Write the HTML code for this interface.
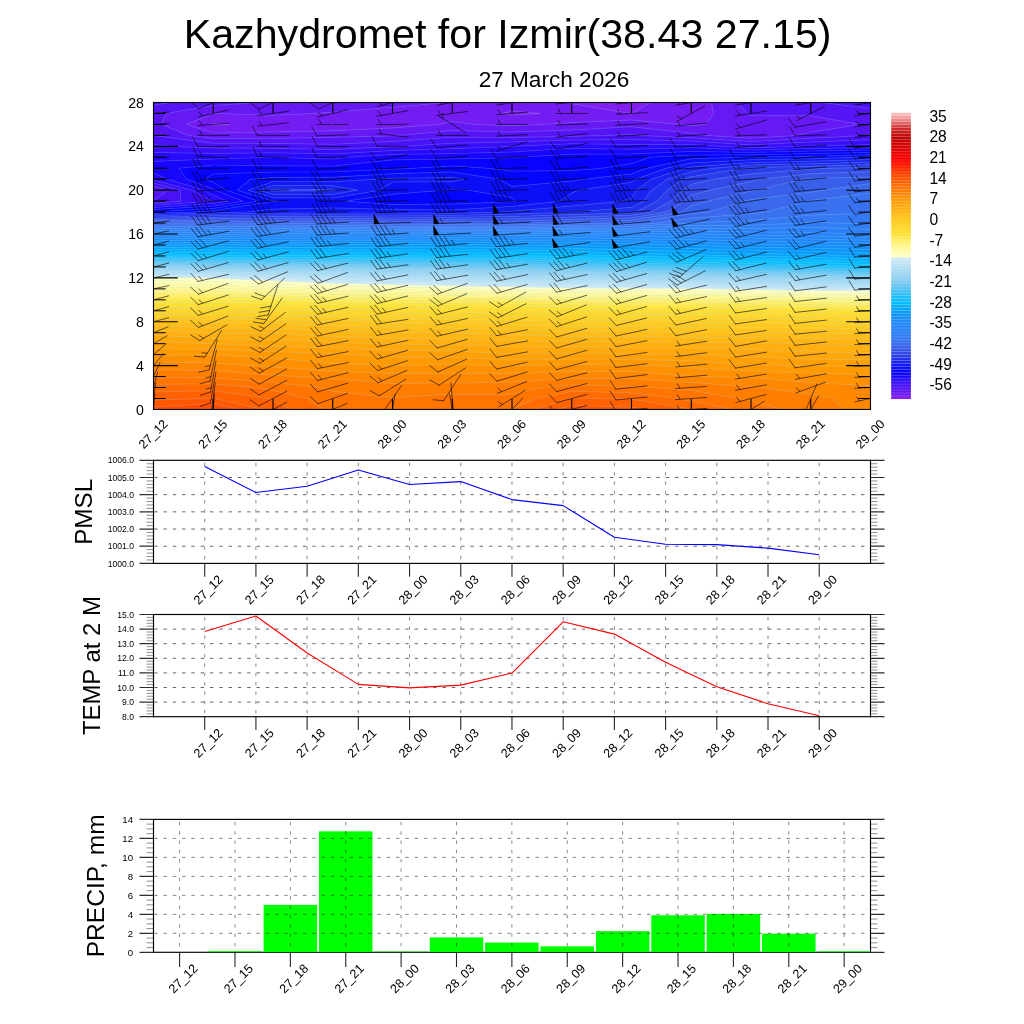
<!DOCTYPE html>
<html><head><meta charset="utf-8"><title>Kazhydromet for Izmir</title>
<style>html,body{margin:0;padding:0;background:#fff}svg{display:block}text{font-family:"Liberation Sans", Arial, Helvetica, sans-serif;fill:#000}</style>
</head><body>
<svg width="1024" height="1024" viewBox="0 0 1024 1024">
<rect width="1024" height="1024" fill="#fff"/>
<text x="507.6" y="47.7" font-size="41.2" text-anchor="middle">Kazhydromet for Izmir(38.43 27.15)</text>
<text x="554" y="86.7" font-size="22.6" text-anchor="middle">27 March 2026</text>
<g><rect x="153.5" y="102.5" width="717.0" height="306.95" fill="#37bef6"/><path d="M211.3 124.4L213.2 125.0L228.6 124.4L213.2 123.6ZM331.0 124.4L332.8 124.5L333.5 124.4L332.8 124.3ZM502.2 113.5L512.0 115.0L539.5 113.5L512.0 110.9ZM630.9 113.5L631.5 113.5L631.8 113.5L650.0 102.5L631.5 102.5L571.8 102.5L569.1 102.5L571.8 103.8Z" fill="#8220f0" stroke="#8220f0" stroke-width="0.35"/><path d="M186.5 124.4L213.2 133.0L273.0 131.9L332.8 130.8L392.5 127.9L439.0 124.4L452.2 121.5L475.1 124.4L512.0 125.7L544.0 124.4L571.8 122.6L631.5 119.9L679.5 124.4L691.2 125.7L706.1 124.4L713.6 113.5L711.3 102.5L691.2 102.5L650.0 102.5L631.8 113.5L631.5 113.5L630.9 113.5L571.8 103.8L569.1 102.5L512.0 102.5L452.2 102.5L447.0 102.5L392.5 107.2L332.8 112.2L311.2 113.5L273.0 115.2L213.2 113.5ZM213.3 125.0L211.3 124.4L213.2 123.6L228.6 124.4ZM332.8 124.5L331.0 124.4L332.8 124.3L333.5 124.4ZM512.0 115.0L502.2 113.5L512.0 110.9L539.5 113.5Z" fill="#741cf2" stroke="#741cf2" stroke-width="0.35"/><path d="M153.5 190.2L153.5 192.2L156.5 190.2L153.5 189.4ZM188.5 135.4L213.2 138.6L273.0 138.5L332.8 137.3L392.5 135.9L399.5 135.4L452.2 130.5L512.0 132.1L571.8 130.1L631.5 126.7L691.2 133.3L706.1 135.4L751.0 138.2L796.8 135.4L810.8 132.2L860.6 124.4L810.8 115.7L751.0 115.6L747.1 113.5L738.0 102.5L711.3 102.5L713.6 113.5L706.1 124.4L691.2 125.7L679.5 124.4L631.5 119.9L571.8 122.6L544.0 124.4L512.0 125.7L475.1 124.4L452.2 121.5L439.0 124.4L392.5 127.9L332.8 130.8L273.0 131.9L213.2 133.0L186.5 124.4L213.2 113.5L273.0 115.2L311.2 113.5L332.8 112.2L392.5 107.2L447.0 102.5L392.5 102.5L332.8 102.5L273.0 102.5L257.5 102.5L213.2 105.5L166.0 113.5L161.7 124.4Z" fill="#6619f3" stroke="#6619f3" stroke-width="0.35"/><path d="M153.5 192.2L153.5 200.2L168.3 190.2L153.5 186.3L153.5 189.4L156.5 190.2ZM153.5 135.4L153.5 135.5L213.2 143.2L273.0 143.4L332.8 144.3L392.5 141.4L452.2 137.2L512.0 137.5L571.8 136.3L608.3 135.4L631.5 134.3L641.6 135.4L691.2 137.8L751.0 141.5L810.8 138.2L864.3 135.4L870.5 134.4L870.5 124.4L870.5 113.5L870.5 108.4L822.2 102.5L810.8 102.5L751.0 102.5L738.0 102.5L747.1 113.5L751.0 115.6L810.8 115.7L860.6 124.4L810.8 132.2L796.8 135.4L751.0 138.2L706.1 135.4L691.2 133.3L631.5 126.7L571.8 130.1L512.0 132.1L452.2 130.5L399.5 135.4L392.5 135.9L332.8 137.3L273.0 138.5L213.2 138.6L188.5 135.4L161.7 124.4L166.0 113.5L213.2 105.5L257.5 102.5L213.2 102.5L169.8 102.5L153.5 105.1L153.5 113.5L153.5 124.4Z" fill="#5715f5" stroke="#5715f5" stroke-width="0.35"/><path d="M153.5 201.2L153.5 203.1L181.0 201.2L180.1 190.2L153.5 183.1L153.5 186.3L168.3 190.2L153.5 200.2ZM175.6 146.4L213.2 148.0L273.0 148.2L332.8 149.5L392.5 146.7L402.6 146.4L452.2 143.3L512.0 141.9L571.8 140.0L631.5 139.6L691.2 141.1L751.0 144.9L810.8 142.0L870.5 139.8L870.5 135.4L870.5 134.4L864.3 135.4L810.8 138.2L751.0 141.5L691.2 137.8L641.6 135.4L631.5 134.3L608.3 135.4L571.8 136.3L512.0 137.5L452.2 137.2L392.5 141.4L332.8 144.3L273.0 143.4L213.2 143.2L153.5 135.5L153.5 144.7ZM153.5 102.5L153.5 105.1L169.8 102.5ZM822.2 102.5L870.5 108.4L870.5 102.5Z" fill="#4912f6" stroke="#4912f6" stroke-width="0.35"/><path d="M153.5 203.1L153.5 205.2L212.6 201.2L191.9 190.2L153.5 180.0L153.5 183.1L180.1 190.2L181.0 201.2ZM153.5 146.4L153.5 152.5L213.2 153.4L273.0 152.8L332.8 153.9L392.5 150.6L452.2 148.8L511.7 146.4L512.0 146.3L571.8 143.8L631.5 144.5L691.2 144.4L721.6 146.4L751.0 147.7L799.0 146.4L810.8 145.8L870.5 144.7L870.5 139.8L810.8 142.0L751.0 144.9L691.2 141.1L631.5 139.6L571.8 140.0L512.0 141.9L452.2 143.3L402.6 146.4L392.5 146.7L332.8 149.5L273.0 148.2L213.2 148.0L175.6 146.4L153.5 144.7Z" fill="#3a0ef8" stroke="#3a0ef8" stroke-width="0.35"/><path d="M153.5 205.2L153.5 207.4L213.2 203.5L228.0 201.2L213.2 195.2L203.7 190.2L167.7 179.2L153.5 173.2L153.5 179.2L153.5 180.0L191.9 190.2L212.6 201.2ZM153.5 157.3L153.5 161.4L213.2 159.0L273.0 157.4L332.8 159.1L347.6 157.3L392.5 154.4L452.2 153.6L512.0 152.0L571.8 148.3L631.5 149.3L691.2 147.8L751.0 150.1L810.8 148.5L870.5 147.8L870.5 146.4L870.5 144.7L810.8 145.8L799.0 146.4L751.0 147.7L721.6 146.4L691.2 144.4L631.5 144.5L571.8 143.8L512.0 146.3L511.7 146.4L452.2 148.8L392.5 150.6L332.8 153.9L273.0 152.8L213.2 153.4L153.5 152.5Z" fill="#290afa" stroke="#290afa" stroke-width="0.35"/><path d="M153.5 207.4L153.5 209.6L213.2 206.0L243.1 201.2L215.3 190.2L213.2 188.9L186.3 179.2L179.1 168.3L213.2 165.1L273.0 165.8L332.8 166.1L392.5 159.9L452.2 158.9L512.0 158.0L517.7 157.3L571.8 154.2L631.5 154.0L691.2 151.4L751.0 152.4L810.8 151.1L870.5 150.1L870.5 147.8L810.8 148.5L751.0 150.1L691.2 147.8L631.5 149.3L571.8 148.3L512.0 152.0L452.2 153.6L392.5 154.4L347.6 157.3L332.8 159.1L273.0 157.4L213.2 159.0L153.5 161.4L153.5 168.3L153.5 173.2L167.7 179.2L203.7 190.2L213.2 195.2L228.0 201.2L213.3 203.5Z" fill="#1906fc" stroke="#1906fc" stroke-width="0.35"/><path d="M153.5 209.6L153.5 211.8L213.2 208.4L258.2 201.2L226.3 190.2L213.2 182.3L204.8 179.2L213.2 174.0L273.0 172.1L332.8 171.9L392.5 169.1L413.2 168.3L452.2 165.9L487.9 168.3L512.0 171.1L571.8 170.7L601.8 168.3L631.5 163.6L650.3 157.3L691.2 155.0L751.0 154.8L810.8 153.6L870.5 152.4L870.5 150.1L810.8 151.1L751.0 152.4L691.2 151.4L631.5 154.0L571.8 154.2L517.7 157.3L512.0 158.0L452.2 158.9L392.5 159.9L332.8 166.1L273.0 165.8L213.2 165.1L179.1 168.3L186.3 179.2L213.2 188.9L215.3 190.2L243.1 201.2L213.2 206.0Z" fill="#0802fe" stroke="#0802fe" stroke-width="0.35"/><path d="M153.5 212.1L153.5 213.2L189.8 212.1L213.2 210.8L273.0 201.3L278.8 201.2L273.0 201.1L237.2 190.2L250.5 179.2L273.0 177.5L332.8 177.2L392.5 173.7L452.2 171.9L499.3 179.2L512.0 186.4L571.8 181.1L583.7 179.2L631.5 173.9L646.6 168.3L691.2 158.7L742.7 157.3L751.0 157.2L810.8 156.2L870.5 154.7L870.5 152.4L810.8 153.6L751.0 154.8L691.2 155.0L650.3 157.3L631.5 163.6L601.8 168.3L571.8 170.7L512.0 171.1L487.9 168.3L452.2 165.9L413.2 168.3L392.5 169.1L332.8 171.9L273.0 172.1L213.2 174.0L204.8 179.2L213.2 182.3L226.3 190.2L258.2 201.2L213.2 208.4L153.5 211.8ZM345.6 201.2L392.5 204.6L452.2 204.0L512.0 201.6L515.8 201.2L512.0 197.7L468.3 190.2L452.2 189.7L444.0 190.2L392.5 194.3Z" fill="#0405fd" stroke="#0405fd" stroke-width="0.35"/><path d="M153.5 213.2L153.5 214.4L213.2 212.8L245.4 212.1L273.0 209.1L332.8 207.9L392.5 209.4L452.2 209.9L512.0 206.4L559.9 201.2L571.8 192.9L578.4 190.2L631.5 182.3L635.8 179.2L666.0 168.3L691.2 162.9L751.0 159.8L810.8 158.7L856.6 157.3L870.5 156.9L870.5 154.7L810.8 156.2L751.0 157.2L742.7 157.3L691.3 158.7L646.6 168.3L631.5 173.9L583.7 179.2L571.8 181.1L512.0 186.4L499.3 179.2L452.2 171.9L392.5 173.7L332.8 177.2L273.0 177.5L250.5 179.2L237.2 190.2L273.0 201.1L278.8 201.2L273.0 201.3L213.2 210.8L189.8 212.1ZM392.5 204.6L345.6 201.2L392.5 194.3L444.0 190.2L452.2 189.7L468.3 190.2L512.0 197.7L515.8 201.2L512.0 201.6L452.2 204.0ZM273.0 197.8L248.1 190.2L273.0 181.7L332.8 181.7L377.6 179.2L392.5 178.3L452.2 177.4L464.0 179.2L452.2 181.8L392.5 182.1L379.9 190.2L332.8 198.1Z" fill="#0b0ff8" stroke="#0b0ff8" stroke-width="0.35"/><path d="M153.5 214.4L153.5 215.7L213.2 214.3L273.0 213.2L332.8 213.0L392.5 213.0L452.2 213.3L498.9 212.1L512.0 211.3L571.8 205.9L622.7 201.2L631.5 197.9L636.2 190.2L651.5 179.2L685.5 168.3L691.2 167.0L751.0 162.5L810.8 161.2L870.5 159.5L870.5 157.3L870.5 156.9L856.6 157.3L810.7 158.7L751.0 159.8L691.2 162.9L666.0 168.3L635.8 179.2L631.5 182.3L578.4 190.2L571.8 192.9L559.9 201.2L512.0 206.4L452.2 209.9L392.5 209.4L332.8 207.9L273.0 209.1L245.4 212.1L213.2 212.8ZM248.1 190.2L273.0 197.8L332.8 198.1L379.9 190.2L392.5 182.1L452.2 181.8L464.0 179.2L452.2 177.4L392.5 178.3L377.6 179.2L332.8 181.7L273.0 181.7ZM273.0 194.4L259.1 190.2L273.0 185.5L332.8 185.7L357.6 190.2L332.8 194.4Z" fill="#1219f4" stroke="#1219f4" stroke-width="0.35"/><path d="M153.5 215.7L153.5 217.0L213.2 215.7L273.0 214.9L332.8 214.8L392.5 215.0L452.2 215.3L512.0 214.1L571.8 212.2L574.9 212.1L631.5 207.3L643.3 201.2L651.6 190.2L667.3 179.2L691.2 171.8L713.3 168.3L751.0 165.1L810.8 163.7L870.5 162.1L870.5 159.5L810.8 161.2L751.0 162.5L691.2 167.0L685.5 168.3L651.5 179.2L636.2 190.2L631.5 197.9L622.7 201.2L571.8 205.9L512.0 211.3L498.9 212.1L452.2 213.3L392.5 213.0L332.8 213.0L273.0 213.2L213.2 214.3ZM259.1 190.2L273.0 194.4L332.8 194.4L357.6 190.2L332.8 185.7L273.0 185.5ZM273.0 191.1L270.0 190.2L273.0 189.2L332.8 189.7L335.3 190.2L332.8 190.6Z" fill="#1a24f0" stroke="#1a24f0" stroke-width="0.35"/><path d="M153.5 217.0L153.5 218.2L213.2 217.2L273.0 216.6L332.8 216.5L392.5 217.1L452.2 217.3L512.0 216.5L571.8 214.6L631.5 212.9L636.1 212.1L656.9 201.2L667.0 190.2L683.1 179.2L691.2 176.7L744.6 168.3L751.0 167.7L810.8 166.2L870.5 164.7L870.5 162.1L810.8 163.7L751.0 165.1L713.3 168.3L691.2 171.8L667.3 179.2L651.6 190.2L643.3 201.2L631.5 207.3L574.9 212.1L571.8 212.2L512.0 214.1L452.2 215.3L392.5 215.0L332.8 214.8L273.0 214.9L213.2 215.7ZM270.0 190.2L273.0 191.1L332.8 190.6L335.3 190.2L332.8 189.7L273.0 189.2Z" fill="#2231ee" stroke="#2231ee" stroke-width="0.35"/><path d="M153.5 218.2L153.5 219.5L213.2 218.6L273.0 218.3L332.8 218.3L392.5 219.1L452.2 219.2L512.0 218.8L571.8 217.0L631.5 215.3L651.1 212.1L670.5 201.2L682.4 190.2L691.2 184.3L714.3 179.2L751.0 173.8L810.8 169.1L831.5 168.3L870.5 167.3L870.5 164.7L810.8 166.2L751.0 167.7L744.6 168.3L691.2 176.7L683.1 179.2L667.0 190.2L656.9 201.2L636.1 212.1L631.5 212.9L571.8 214.6L512.0 216.5L452.2 217.3L392.5 217.1L332.8 216.5L273.0 216.6L213.2 217.2Z" fill="#2b3dea" stroke="#2b3dea" stroke-width="0.35"/><path d="M153.5 219.5L153.5 220.7L213.3 220.1L273.0 220.0L332.8 220.1L392.5 221.1L452.2 221.2L512.0 221.2L571.8 219.3L631.5 217.8L666.2 212.1L684.0 201.2L691.2 195.1L710.3 190.2L751.0 181.4L760.5 179.2L810.8 173.7L870.5 171.7L870.5 168.3L870.5 167.3L831.5 168.3L810.8 169.1L751.0 173.8L714.3 179.2L691.2 184.3L682.4 190.2L670.5 201.2L651.1 212.1L631.5 215.3L571.8 217.0L512.0 218.8L452.2 219.2L392.5 219.1L332.8 218.3L273.0 218.3L213.2 218.6Z" fill="#334ae8" stroke="#334ae8" stroke-width="0.35"/><path d="M390.9 223.1L392.5 223.1L452.2 223.1L512.0 223.4L526.9 223.1L571.8 221.7L631.5 220.2L681.2 212.1L691.2 205.7L708.1 201.2L751.0 190.9L756.9 190.2L801.8 179.2L810.8 178.3L870.5 177.0L870.5 171.7L810.8 173.7L760.5 179.2L751.0 181.4L710.3 190.2L691.2 195.1L684.0 201.2L666.2 212.1L631.5 217.8L571.8 219.3L512.0 221.2L452.2 221.2L392.5 221.1L332.8 220.1L273.0 220.0L213.2 220.1L153.5 220.7L153.5 222.0L213.2 221.6L273.0 221.7L332.8 221.9Z" fill="#3855e7" stroke="#3855e7" stroke-width="0.35"/><path d="M153.5 223.1L153.5 223.3L196.8 223.1L213.2 223.0L224.6 223.1L273.0 223.4L332.8 223.6L392.5 224.7L452.2 224.6L512.0 224.8L571.8 223.7L614.8 223.1L631.5 222.7L691.2 213.6L708.8 212.1L743.9 201.2L751.0 199.5L810.8 192.1L822.8 190.2L870.5 183.6L870.5 179.2L870.5 177.0L810.8 178.3L801.8 179.2L756.9 190.2L751.0 190.9L708.1 201.2L691.2 205.7L681.2 212.1L631.5 220.2L571.8 221.7L526.9 223.1L512.0 223.4L452.2 223.1L392.5 223.1L390.9 223.1L332.8 221.9L273.0 221.7L213.2 221.6L153.5 222.0Z" fill="#385fea" stroke="#385fea" stroke-width="0.35"/><path d="M153.5 223.3L153.5 225.1L213.2 224.9L273.0 225.1L332.8 225.3L392.5 226.3L452.2 226.0L512.0 226.3L571.8 225.2L631.5 224.6L657.9 223.1L691.2 218.2L751.0 213.5L766.5 212.1L807.3 201.2L810.7 200.7L870.5 192.8L870.5 190.2L870.5 183.6L822.8 190.2L810.7 192.1L751.0 199.5L743.9 201.2L708.8 212.1L691.2 213.6L631.5 222.7L614.8 223.1L571.8 223.7L512.0 224.8L452.2 224.6L392.5 224.7L332.8 223.6L273.0 223.4L224.6 223.1L213.2 223.0L196.8 223.1Z" fill="#3a69ed" stroke="#3a69ed" stroke-width="0.35"/><path d="M153.5 225.1L153.5 226.8L213.2 226.8L273.0 226.8L332.8 227.0L392.5 227.8L452.2 227.5L512.0 227.8L571.8 226.8L631.5 226.5L689.2 223.1L691.2 222.8L751.0 220.5L810.8 215.1L870.5 213.3L870.5 212.1L870.5 201.2L870.5 192.8L810.8 200.7L807.3 201.2L766.5 212.1L751.0 213.5L691.2 218.2L657.9 223.1L631.5 224.6L571.8 225.2L512.0 226.3L452.2 226.0L392.5 226.3L332.8 225.3L273.0 225.1L213.3 224.9Z" fill="#3872f0" stroke="#3872f0" stroke-width="0.35"/><path d="M153.5 226.8L153.5 228.6L213.2 228.7L273.0 228.5L332.8 228.6L392.5 229.4L452.2 228.9L512.0 229.2L571.8 228.3L631.5 228.3L691.2 225.6L751.0 225.2L799.7 223.1L810.8 222.1L837.4 223.1L870.5 224.0L870.5 223.1L870.5 213.3L810.8 215.1L751.0 220.5L691.2 222.8L689.2 223.1L631.5 226.5L571.8 226.8L512.0 227.8L452.2 227.5L392.5 227.8L332.8 227.0L273.0 226.8L213.3 226.8Z" fill="#3479f3" stroke="#3479f3" stroke-width="0.35"/><path d="M153.5 228.6L153.5 230.4L213.2 230.6L273.0 230.2L332.8 230.3L392.5 231.0L452.2 230.4L512.0 230.7L571.8 229.8L631.5 230.1L691.2 228.4L751.0 228.6L810.8 227.4L870.5 229.3L870.5 224.0L837.4 223.1L810.8 222.1L799.7 223.1L751.0 225.2L691.2 225.6L631.5 228.3L571.8 228.3L512.0 229.2L452.2 228.9L392.5 229.4L332.8 228.6L273.0 228.5L213.2 228.7Z" fill="#307ef6" stroke="#307ef6" stroke-width="0.35"/><path d="M857.4 234.0L870.5 234.3L870.5 234.0L870.5 229.3L810.8 227.4L751.0 228.6L691.2 228.4L631.5 230.1L571.8 229.8L512.0 230.7L452.2 230.4L392.5 231.0L332.8 230.3L273.0 230.2L213.2 230.6L153.5 230.4L153.5 232.1L213.2 232.5L273.0 231.9L332.8 232.0L392.5 232.5L452.2 231.8L512.0 232.2L571.8 231.4L631.5 231.9L691.2 231.1L751.0 231.9L810.8 232.3Z" fill="#2c80f6" stroke="#2c80f6" stroke-width="0.35"/><path d="M171.8 234.1L213.2 234.4L238.8 234.1L273.0 233.6L332.8 233.7L384.0 234.0L392.5 234.1L396.4 234.0L452.2 233.3L512.0 233.7L571.8 232.9L631.5 233.8L691.2 233.9L700.6 234.1L751.0 235.2L810.8 236.0L870.5 237.3L870.5 234.3L857.4 234.1L810.8 232.3L751.0 231.9L691.2 231.1L631.5 231.9L571.8 231.4L512.0 232.2L452.2 231.8L392.5 232.5L332.8 232.0L273.0 231.9L213.2 232.5L153.5 232.1L153.5 233.9Z" fill="#2882f8" stroke="#2882f8" stroke-width="0.35"/><path d="M153.5 234.0L153.5 236.1L213.2 236.4L273.0 235.8L332.8 235.8L392.5 236.2L452.2 235.1L512.0 235.7L571.8 234.7L631.5 236.2L691.2 236.7L751.0 238.1L810.8 239.0L870.5 240.3L870.5 237.3L810.8 236.0L751.0 235.2L700.6 234.0L691.2 233.9L631.5 233.8L571.8 232.9L512.0 233.7L452.2 233.3L396.4 234.0L392.5 234.1L384.0 234.0L332.8 233.7L273.0 233.6L238.8 234.1L213.2 234.4L171.8 234.1L153.5 233.9Z" fill="#2484f8" stroke="#2484f8" stroke-width="0.35"/><path d="M153.5 236.1L153.5 238.3L213.2 238.5L273.0 238.1L332.8 238.0L392.5 238.3L452.2 237.4L512.0 238.1L571.8 237.4L631.5 238.7L691.2 239.6L751.0 241.1L810.8 241.9L870.5 243.2L870.5 240.3L810.8 239.0L751.0 238.1L691.2 236.7L631.5 236.2L571.8 234.7L512.0 235.7L452.2 235.1L392.5 236.2L332.8 235.8L273.0 235.8L213.2 236.4Z" fill="#2086fa" stroke="#2086fa" stroke-width="0.35"/><path d="M815.8 245.0L870.5 246.3L870.5 245.0L870.5 243.2L810.8 241.9L751.0 241.1L691.2 239.6L631.5 238.7L571.8 237.4L512.0 238.1L452.2 237.4L392.5 238.3L332.8 238.0L273.0 238.1L213.2 238.5L153.5 238.3L153.5 240.6L213.2 240.5L273.0 240.4L332.8 240.2L392.5 240.4L452.2 239.7L512.0 240.4L571.8 240.0L631.5 241.2L691.2 242.4L751.0 244.1L810.8 244.9Z" fill="#1b8afa" stroke="#1b8afa" stroke-width="0.35"/><path d="M681.8 245.0L691.2 245.3L751.0 247.2L810.8 248.1L870.5 249.7L870.5 246.3L815.8 245.0L810.8 244.9L751.0 244.1L691.2 242.4L631.5 241.2L571.8 240.0L512.0 240.4L452.2 239.7L392.5 240.4L332.8 240.2L273.0 240.4L213.2 240.5L153.5 240.6L153.5 242.8L213.2 242.5L273.0 242.7L332.8 242.4L392.5 242.5L452.2 242.0L512.0 242.7L571.8 242.7L631.5 243.7Z" fill="#148efa" stroke="#148efa" stroke-width="0.35"/><path d="M508.3 245.0L512.0 245.1L571.8 245.4L631.5 246.6L691.2 248.4L751.0 250.2L810.8 251.3L870.5 253.0L870.5 249.7L810.8 248.1L751.0 247.2L691.2 245.3L681.8 245.0L631.5 243.7L571.8 242.7L512.0 242.7L452.2 242.0L392.5 242.5L332.8 242.4L273.0 242.7L213.2 242.5L153.5 242.8L153.5 245.0L213.2 244.5L273.0 245.0L332.8 244.6L392.5 244.6L452.2 244.3Z" fill="#0d94fa" stroke="#0d94fa" stroke-width="0.35"/><path d="M859.1 256.0L870.5 256.3L870.5 256.0L870.5 253.0L810.8 251.3L751.0 250.2L691.2 248.4L631.5 246.6L571.8 245.4L512.0 245.1L508.3 245.0L452.2 244.3L392.5 244.6L332.8 244.6L273.0 245.0L213.2 244.5L153.5 245.0L153.5 245.0L153.5 247.4L213.2 247.1L273.0 247.6L332.8 247.3L392.5 247.3L452.2 247.1L512.0 247.7L571.8 248.3L631.5 249.9L691.2 251.5L751.0 253.3L810.8 254.5Z" fill="#099bfb" stroke="#099bfb" stroke-width="0.35"/><path d="M736.9 256.0L751.0 256.3L810.8 257.3L870.5 259.0L870.5 256.3L859.1 256.0L810.8 254.5L751.0 253.3L691.2 251.5L631.5 249.9L571.8 248.3L512.0 247.7L452.2 247.1L392.5 247.3L332.8 247.3L273.0 247.6L213.2 247.1L153.5 247.4L153.5 249.8L213.2 249.8L273.0 250.2L332.8 250.0L392.5 250.1L452.2 250.1L512.0 250.2L571.8 251.2L631.5 253.3L691.2 254.6Z" fill="#06a5fc" stroke="#06a5fc" stroke-width="0.35"/><path d="M617.9 256.0L631.5 256.4L691.2 257.3L751.0 258.7L810.8 259.9L870.5 261.7L870.5 259.0L810.8 257.3L751.0 256.3L736.9 256.0L691.2 254.6L631.5 253.3L571.8 251.2L512.0 250.2L452.2 250.1L392.5 250.1L332.8 250.0L273.0 250.2L213.2 249.8L153.5 249.8L153.5 252.1L213.2 252.6L273.0 252.9L332.8 252.8L392.5 252.9L452.2 253.2L512.0 252.8L571.8 254.1Z" fill="#04affd" stroke="#04affd" stroke-width="0.35"/><path d="M429.8 256.0L452.2 256.1L466.2 256.0L512.0 255.4L534.9 256.0L571.8 256.7L631.5 258.6L691.2 259.7L751.0 261.0L810.8 262.4L870.5 264.5L870.5 261.7L810.8 259.9L751.0 258.7L691.2 257.3L631.5 256.4L617.9 256.0L571.8 254.1L512.0 252.8L452.2 253.2L392.5 252.9L332.8 252.8L273.0 252.9L213.2 252.6L153.5 252.1L153.5 254.5L213.2 255.3L273.0 255.5L332.8 255.5L392.5 255.7Z" fill="#01b9fe" stroke="#01b9fe" stroke-width="0.35"/><path d="M864.0 266.9L870.5 267.1L870.5 266.9L870.5 264.5L810.8 262.4L751.0 261.0L691.2 259.7L631.5 258.6L571.8 256.7L534.9 256.0L512.0 255.4L466.2 256.0L452.3 256.1L429.8 256.0L392.5 255.7L332.8 255.5L273.0 255.5L213.2 255.3L153.5 254.5L153.5 256.0L153.5 256.6L213.2 257.2L273.0 257.4L332.8 257.4L392.5 257.7L452.2 258.0L512.0 257.7L571.8 258.9L631.5 260.7L691.2 262.1L751.0 263.4L810.7 265.0Z" fill="#0abefd" stroke="#0abefd" stroke-width="0.35"/><path d="M790.3 266.9L810.8 267.4L870.5 268.8L870.5 267.1L864.0 266.9L810.8 265.0L751.0 263.4L691.2 262.1L631.5 260.7L571.8 258.9L512.0 257.7L452.2 258.0L392.5 257.7L332.8 257.4L273.0 257.4L213.3 257.2L153.5 256.6L153.5 258.2L213.2 258.8L273.0 259.1L332.8 259.1L392.5 259.6L452.2 259.8L512.0 259.9L571.8 261.2L631.5 262.9L691.2 264.5L751.0 265.8Z" fill="#1ebefa" stroke="#1ebefa" stroke-width="0.35"/><path d="M695.6 266.9L751.0 267.9L810.8 269.1L870.5 270.5L870.5 268.8L810.8 267.4L790.3 266.9L751.0 265.8L691.2 264.5L631.5 262.9L571.8 261.2L512.0 259.9L452.2 259.8L392.5 259.6L332.8 259.1L273.0 259.1L213.2 258.8L153.5 258.2L153.5 259.8L213.2 260.4L273.0 260.8L332.8 260.8L392.5 261.5L452.2 261.7L512.0 262.1L571.8 263.4L631.5 265.0L691.2 266.8Z" fill="#32bef7" stroke="#32bef7" stroke-width="0.35"/><path d="M622.4 266.9L631.5 267.1L691.2 268.6L751.0 269.7L810.8 270.7L870.5 272.3L870.5 270.5L810.8 269.1L751.0 267.9L695.6 266.9L691.2 266.8L631.5 265.0L571.8 263.4L512.0 262.1L452.2 261.7L392.5 261.5L332.8 260.8L273.0 260.8L213.2 260.4L153.5 259.8L153.5 261.5L213.2 262.0L273.0 262.5L332.8 262.4L392.5 263.4L452.2 263.5L512.0 264.3L571.8 265.6Z" fill="#45c0f4" stroke="#45c0f4" stroke-width="0.35"/><path d="M530.8 266.9L571.8 267.7L631.5 269.0L691.2 270.4L751.0 271.4L810.8 272.4L870.5 274.0L870.5 272.3L810.8 270.7L751.0 269.7L691.2 268.6L631.5 267.1L622.4 266.9L571.8 265.6L512.0 264.3L452.2 263.5L392.5 263.4L332.8 262.4L273.0 262.5L213.2 262.0L153.5 261.5L153.5 263.1L213.2 263.6L273.0 264.2L332.8 264.1L392.5 265.3L452.2 265.4L512.0 266.5Z" fill="#58c4f3" stroke="#58c4f3" stroke-width="0.35"/><path d="M382.3 266.9L392.5 267.2L452.2 267.2L512.0 268.5L571.8 269.7L631.5 270.9L691.2 272.1L751.0 273.2L810.8 274.1L870.5 275.7L870.5 274.0L810.8 272.4L751.0 271.4L691.2 270.4L631.5 269.0L571.8 267.7L530.8 266.9L512.0 266.5L452.2 265.4L392.5 265.3L332.8 264.1L273.0 264.2L213.2 263.6L153.5 263.1L153.5 264.7L213.2 265.3L273.0 265.9L332.8 265.8Z" fill="#6bc7f2" stroke="#6bc7f2" stroke-width="0.35"/><path d="M218.6 266.9L273.0 267.5L332.8 267.5L392.5 269.0L452.2 269.1L512.0 270.4L571.8 271.7L631.5 272.7L691.2 273.9L751.0 275.0L810.8 275.8L870.5 277.4L870.5 275.7L810.8 274.1L751.0 273.2L691.2 272.1L631.5 270.9L571.8 269.7L512.0 268.5L452.2 267.2L392.5 267.2L382.3 266.9L332.8 265.8L273.0 265.9L213.2 265.3L153.5 264.7L153.5 266.3L213.2 266.9Z" fill="#7ecbf1" stroke="#7ecbf1" stroke-width="0.35"/><path d="M824.5 277.9L870.5 279.1L870.5 277.9L870.5 277.4L810.8 275.8L751.0 275.0L691.2 273.9L631.5 272.7L571.8 271.7L512.0 270.4L452.2 269.1L392.5 269.0L332.8 267.5L273.0 267.5L218.6 266.9L213.2 266.9L153.5 266.3L153.5 266.9L153.5 267.8L213.2 268.3L273.0 269.0L332.8 269.3L392.5 270.7L452.2 271.0L512.0 272.3L571.8 273.7L631.5 274.6L691.2 275.6L751.0 276.8L810.8 277.5Z" fill="#8ccff0" stroke="#8ccff0" stroke-width="0.35"/><path d="M716.8 277.9L751.0 278.6L810.8 279.3L870.5 280.8L870.5 279.1L824.5 277.9L810.8 277.5L751.0 276.8L691.2 275.6L631.5 274.6L571.8 273.7L512.0 272.3L452.2 271.0L392.5 270.7L332.8 269.3L273.0 269.0L213.2 268.3L153.5 267.8L153.5 269.1L213.2 269.7L273.0 270.4L332.8 271.0L392.5 272.5L452.2 272.9L512.0 274.2L571.8 275.6L631.5 276.5L691.2 277.4Z" fill="#95d2f1" stroke="#95d2f1" stroke-width="0.35"/><path d="M594.9 277.9L631.5 278.4L691.2 279.3L751.0 280.4L810.8 281.2L870.5 282.4L870.5 280.8L810.8 279.3L751.0 278.6L716.8 277.9L691.2 277.4L631.5 276.5L571.8 275.6L512.0 274.2L452.2 272.9L392.5 272.5L332.8 271.0L273.0 270.4L213.2 269.7L153.5 269.1L153.5 270.5L213.2 271.1L273.0 271.9L332.8 272.8L392.5 274.3L452.2 274.8L512.0 276.2L571.8 277.6Z" fill="#9ed6f2" stroke="#9ed6f2" stroke-width="0.35"/><path d="M505.0 277.9L512.0 278.1L571.8 279.7L631.5 280.3L691.2 281.1L751.0 282.2L810.8 283.0L870.5 284.1L870.5 282.4L810.8 281.2L751.0 280.4L691.2 279.3L631.5 278.4L594.9 277.9L571.8 277.6L512.0 276.2L452.2 274.8L392.5 274.3L332.8 272.8L273.0 271.9L213.2 271.1L153.5 270.5L153.5 271.9L213.2 272.5L273.0 273.4L332.8 274.5L392.5 276.1L452.2 276.7Z" fill="#a7d9f3" stroke="#a7d9f3" stroke-width="0.35"/><path d="M396.0 277.9L452.2 278.7L512.0 280.3L571.8 281.7L631.5 282.3L691.2 283.0L751.0 284.1L810.8 284.9L870.5 285.7L870.5 284.1L810.8 283.0L751.0 282.2L691.2 281.1L631.5 280.3L571.8 279.7L512.0 278.1L505.0 277.9L452.2 276.7L392.5 276.1L332.8 274.5L273.0 273.4L213.2 272.5L153.5 271.9L153.5 273.2L213.2 273.9L273.0 274.8L332.8 276.3L392.5 277.9Z" fill="#b0ddf3" stroke="#b0ddf3" stroke-width="0.35"/><path d="M328.7 277.9L332.8 278.1L392.5 280.1L452.2 281.1L512.0 282.6L571.8 283.8L631.5 284.3L691.2 284.9L751.0 285.9L810.8 286.7L870.5 287.4L870.5 285.7L810.8 284.9L751.0 284.1L691.2 283.0L631.5 282.3L571.8 281.7L512.0 280.3L452.2 278.7L396.0 277.9L392.5 277.9L332.8 276.3L273.0 274.8L213.2 273.9L153.5 273.2L153.5 274.6L213.2 275.3L273.0 276.3Z" fill="#b9e0f4" stroke="#b9e0f4" stroke-width="0.35"/><path d="M849.1 288.9L870.5 289.0L870.5 288.9L870.5 287.4L810.8 286.7L751.0 285.9L691.2 284.9L631.5 284.3L571.8 283.8L512.0 282.6L452.2 281.1L392.5 280.1L332.7 278.1L328.7 277.9L273.0 276.3L213.2 275.3L153.5 274.6L153.5 275.9L213.2 276.7L273.0 277.8L277.1 277.9L332.8 280.8L392.5 282.4L452.2 283.5L512.0 284.8L571.8 285.9L631.5 286.2L691.2 286.8L751.0 287.7L810.8 288.6Z" fill="#c2e4f5" stroke="#c2e4f5" stroke-width="0.35"/><path d="M703.8 288.9L751.0 289.7L810.8 290.7L870.5 291.2L870.5 289.0L849.1 288.9L810.8 288.6L751.0 287.7L691.2 286.8L631.5 286.2L571.8 285.9L512.0 284.8L452.2 283.5L392.5 282.4L332.8 280.8L277.1 277.9L273.0 277.8L213.2 276.7L153.5 275.9L153.5 277.3L197.2 277.9L213.2 278.4L273.0 280.8L332.8 283.4L392.5 284.7L452.3 285.9L512.0 287.0L571.8 288.0L631.5 288.2L691.2 288.7Z" fill="#cce7f6" stroke="#cce7f6" stroke-width="0.35"/><path d="M485.2 288.9L512.0 289.3L571.8 290.2L631.5 290.4L691.2 290.9L751.0 291.9L810.8 292.9L870.5 293.4L870.5 291.2L810.8 290.7L751.0 289.7L703.8 288.9L691.2 288.7L631.5 288.2L571.8 288.0L512.0 287.0L452.2 285.9L392.5 284.7L332.8 283.4L273.0 280.8L213.2 278.4L197.2 277.9L153.5 277.3L153.5 277.9L153.5 279.9L213.2 281.6L273.0 284.0L332.8 286.1L392.5 287.0L452.3 288.3Z" fill="#fffec5" stroke="#fffec5" stroke-width="0.35"/><path d="M345.3 288.9L392.5 289.4L452.2 290.7L512.0 291.6L571.8 292.6L631.5 292.7L691.2 293.2L751.0 294.1L810.8 295.0L870.5 295.6L870.5 293.4L810.8 292.9L751.0 291.9L691.2 290.9L631.5 290.4L571.8 290.2L512.0 289.3L485.2 288.9L452.2 288.3L392.5 287.0L332.8 286.1L273.0 284.0L213.2 281.6L153.5 279.9L153.5 283.5L213.2 284.7L273.0 287.2L332.8 288.7Z" fill="#fffcb5" stroke="#fffcb5" stroke-width="0.35"/><path d="M236.8 288.9L273.0 290.2L332.8 291.5L392.5 292.1L452.2 293.2L512.0 293.9L571.8 295.0L631.5 295.0L691.2 295.4L751.0 296.3L810.8 297.2L870.5 297.7L870.5 295.6L810.8 295.0L751.0 294.1L691.2 293.2L631.5 292.7L571.8 292.6L512.0 291.6L452.2 290.7L392.5 289.4L345.3 288.9L332.8 288.7L273.0 287.2L213.2 284.7L153.5 283.5L153.5 287.1L213.2 287.9Z" fill="#fff9a4" stroke="#fff9a4" stroke-width="0.35"/><path d="M863.2 299.8L870.5 299.9L870.5 299.8L870.5 297.7L810.8 297.2L751.0 296.3L691.2 295.4L631.5 295.0L571.8 295.0L512.0 293.9L452.2 293.2L392.5 292.1L332.8 291.5L273.0 290.2L236.8 288.9L213.2 287.9L153.5 287.1L153.5 288.9L153.5 290.5L213.2 290.9L273.0 292.8L332.8 294.2L392.5 294.7L452.2 295.6L512.0 296.2L571.8 297.4L631.5 297.3L691.2 297.7L751.0 298.5L810.7 299.3Z" fill="#fff794" stroke="#fff794" stroke-width="0.35"/><path d="M669.8 299.8L691.2 300.0L751.0 300.9L810.8 301.9L870.5 302.9L870.5 299.9L863.2 299.8L810.8 299.3L751.0 298.5L691.2 297.7L631.5 297.3L571.8 297.4L512.0 296.2L452.2 295.6L392.5 294.7L332.8 294.2L273.0 292.8L213.2 290.9L153.5 290.5L153.5 293.8L213.2 294.0L273.0 295.4L332.8 296.9L392.5 297.4L452.2 298.0L512.0 298.5L571.8 299.7L631.5 299.6Z" fill="#fff381" stroke="#fff381" stroke-width="0.35"/><path d="M352.9 299.8L392.5 300.1L452.2 300.5L512.0 301.1L571.8 302.4L631.5 302.8L691.2 303.0L751.0 303.8L810.8 304.6L870.5 305.8L870.5 302.9L810.8 301.9L751.0 300.9L691.2 300.0L669.8 299.8L631.5 299.6L571.8 299.7L512.0 298.5L452.2 298.0L392.5 297.4L332.8 296.9L273.0 295.4L213.2 294.0L153.5 293.8L153.5 297.1L213.2 297.0L273.0 298.1L332.8 299.7Z" fill="#ffee6a" stroke="#ffee6a" stroke-width="0.35"/><path d="M153.5 299.8L153.5 300.3L213.2 300.1L273.0 300.9L332.8 302.7L392.5 303.0L452.2 303.7L512.0 304.0L571.8 305.1L631.5 306.0L691.2 306.1L751.0 306.7L810.8 307.3L870.5 308.8L870.5 305.8L810.8 304.6L751.0 303.8L691.2 303.0L631.5 302.8L571.8 302.4L512.0 301.1L452.2 300.5L392.5 300.1L352.9 299.8L332.8 299.7L273.0 298.1L213.2 297.0L153.5 297.1Z" fill="#ffe954" stroke="#ffe954" stroke-width="0.35"/><path d="M838.5 310.8L870.5 311.8L870.5 310.8L870.5 308.8L810.8 307.3L751.0 306.7L691.2 306.1L631.5 306.0L571.8 305.1L512.0 304.0L452.2 303.7L392.5 303.0L332.8 302.7L273.0 300.9L213.2 300.1L153.5 300.3L153.5 303.4L213.2 303.3L273.0 304.4L332.8 305.7L392.5 305.9L452.2 306.8L512.0 306.9L571.8 307.7L631.5 309.2L691.2 309.2L751.0 309.6L810.8 310.1Z" fill="#ffe43d" stroke="#ffe43d" stroke-width="0.35"/><path d="M585.2 310.8L631.5 312.3L691.2 312.4L751.0 312.7L810.8 313.2L870.5 315.1L870.5 311.8L838.5 310.8L810.8 310.1L751.0 309.6L691.2 309.2L631.5 309.2L571.8 307.7L512.0 306.9L452.2 306.8L392.5 305.9L332.8 305.7L273.0 304.4L213.2 303.3L153.5 303.4L153.5 306.5L213.2 306.4L273.0 307.8L332.8 308.7L392.5 308.8L452.2 310.0L512.0 309.8L571.8 310.4Z" fill="#ffde30" stroke="#ffde30" stroke-width="0.35"/><path d="M258.4 310.8L273.0 311.1L332.8 311.7L392.5 312.0L452.2 313.2L512.0 313.2L571.8 314.1L631.5 315.5L691.2 315.7L751.0 316.0L810.8 316.4L870.5 318.4L870.5 315.1L810.8 313.2L751.0 312.7L691.2 312.4L631.5 312.3L585.2 310.8L571.8 310.4L512.0 309.8L452.2 310.0L392.5 308.8L332.8 308.7L273.0 307.8L213.2 306.4L153.5 306.5L153.5 309.7L213.2 309.6Z" fill="#ffda2c" stroke="#ffda2c" stroke-width="0.35"/><path d="M153.5 310.8L153.5 312.7L213.2 312.8L273.0 314.1L332.8 314.7L392.5 315.6L452.2 316.5L512.0 316.8L571.8 318.0L631.5 318.6L691.2 318.9L751.0 319.2L810.8 319.7L870.5 321.7L870.5 318.4L810.8 316.4L751.0 316.0L691.2 315.7L631.5 315.5L571.8 314.1L512.0 313.2L452.2 313.2L392.5 312.0L332.8 311.7L273.0 311.1L258.4 310.8L213.2 309.6L153.5 309.7Z" fill="#ffd428" stroke="#ffd428" stroke-width="0.35"/><path d="M568.5 321.8L571.8 321.9L602.7 321.8L631.5 321.7L638.9 321.8L691.2 322.5L751.0 322.9L810.8 323.5L870.5 325.7L870.5 321.8L870.5 321.7L810.8 319.7L751.0 319.2L691.2 318.9L631.5 318.6L571.8 318.0L512.0 316.8L452.2 316.5L392.5 315.6L332.8 314.7L273.0 314.1L213.2 312.8L153.5 312.7L153.5 315.7L213.2 315.9L273.0 317.0L332.8 317.7L392.5 319.3L452.2 319.7L512.0 320.4Z" fill="#ffd024" stroke="#ffd024" stroke-width="0.35"/><path d="M363.4 321.8L392.5 323.2L452.2 323.5L512.0 324.8L571.8 326.7L631.5 326.3L691.2 327.7L751.0 327.9L810.8 328.0L870.5 329.8L870.5 325.7L810.7 323.5L751.0 322.9L691.2 322.5L638.9 321.8L631.5 321.7L602.7 321.8L571.8 321.9L568.5 321.8L512.0 320.4L452.2 319.7L392.5 319.3L332.8 317.7L273.0 317.0L213.2 315.9L153.5 315.7L153.5 318.6L213.2 319.1L273.0 319.9L332.8 320.7Z" fill="#ffca20" stroke="#ffca20" stroke-width="0.35"/><path d="M685.8 332.7L691.2 332.9L751.0 332.9L776.0 332.7L810.8 332.5L821.1 332.7L870.5 334.1L870.5 332.7L870.5 329.8L810.8 328.0L751.0 327.9L691.2 327.7L631.5 326.3L571.8 326.7L512.0 324.8L452.2 323.5L392.5 323.2L363.4 321.8L332.8 320.7L273.0 319.9L213.2 319.1L153.5 318.6L153.5 321.6L168.2 321.8L213.2 322.6L273.0 323.5L332.8 325.5L392.5 327.8L452.2 328.3L512.0 329.8L571.8 331.5L631.5 330.9Z" fill="#ffc41c" stroke="#ffc41c" stroke-width="0.35"/><path d="M420.9 332.7L452.2 333.1L512.0 335.0L571.8 336.5L631.5 336.3L691.2 337.6L751.0 337.8L810.8 338.2L870.5 339.1L870.5 334.1L821.1 332.7L810.8 332.5L776.0 332.7L751.0 332.9L691.2 332.9L685.8 332.7L631.5 330.9L571.8 331.5L512.0 329.8L452.2 328.3L392.5 327.8L332.8 325.5L273.0 323.5L213.2 322.6L168.2 321.8L153.5 321.6L153.5 321.8L153.5 325.8L213.2 328.0L273.0 328.3L332.8 331.1L392.5 332.4Z" fill="#ffbd18" stroke="#ffbd18" stroke-width="0.35"/><path d="M799.8 343.7L810.8 344.0L870.5 344.5L870.5 343.7L870.5 339.1L810.8 338.2L751.0 337.8L691.2 337.6L631.5 336.3L571.8 336.5L512.0 335.0L452.2 333.1L420.9 332.7L392.5 332.4L332.8 331.1L273.0 328.3L213.2 328.0L153.5 325.8L153.5 330.1L202.5 332.7L213.2 333.4L273.0 333.2L332.8 336.7L392.5 338.2L452.2 339.0L512.0 340.7L571.8 341.6L631.5 342.1L691.2 342.3L751.0 342.7Z" fill="#ffb613" stroke="#ffb613" stroke-width="0.35"/><path d="M382.3 343.7L392.5 344.0L452.2 344.8L512.0 347.0L571.8 347.3L631.5 348.0L691.2 348.1L751.0 349.6L810.8 352.1L870.5 352.7L870.5 344.5L810.8 344.0L799.8 343.7L751.0 342.7L691.2 342.3L631.5 342.1L571.8 341.6L512.0 340.7L452.2 339.0L392.5 338.2L332.8 336.7L273.0 333.2L213.2 333.4L202.5 332.7L153.5 330.1L153.5 332.7L153.5 335.2L213.2 338.6L273.0 340.1L332.8 342.2Z" fill="#ffaf0f" stroke="#ffaf0f" stroke-width="0.35"/><path d="M699.3 354.6L751.0 357.1L810.8 359.1L870.5 359.7L870.5 354.6L870.5 352.7L810.8 352.1L751.0 349.6L691.2 348.1L631.5 348.0L571.8 347.3L512.0 347.0L452.2 344.8L392.5 344.0L382.3 343.7L332.8 342.2L273.0 340.1L213.2 338.6L153.5 335.2L153.5 341.7L210.9 343.7L213.2 343.7L273.0 346.2L332.8 347.9L392.5 350.3L452.2 350.8L512.0 354.0L571.8 353.3L631.5 353.9L691.2 354.3Z" fill="#ffa80b" stroke="#ffa80b" stroke-width="0.35"/><path d="M800.3 365.6L810.8 365.8L870.5 366.5L870.5 365.6L870.5 359.7L810.8 359.1L751.0 357.1L699.3 354.6L691.2 354.3L631.5 353.9L571.8 353.3L512.0 354.0L452.2 350.8L392.5 350.3L332.8 347.9L273.0 346.2L213.2 343.7L210.9 343.7L153.5 341.7L153.5 343.7L153.5 348.7L213.2 349.2L273.0 351.6L332.8 353.7L352.9 354.6L392.5 357.2L452.2 357.3L512.0 360.0L571.8 359.0L631.5 359.3L691.2 360.9L751.0 364.8Z" fill="#ffa106" stroke="#ffa106" stroke-width="0.35"/><path d="M499.0 365.6L512.0 365.9L522.1 365.6L571.8 364.5L631.5 364.8L653.1 365.6L691.2 367.9L751.0 371.1L810.8 373.2L870.5 374.9L870.5 366.5L810.8 365.8L800.3 365.6L751.0 364.8L691.2 360.9L631.5 359.3L571.8 359.0L512.0 360.0L452.2 357.3L392.5 357.2L352.9 354.6L332.8 353.7L273.0 351.6L213.2 349.2L153.5 348.7L153.5 354.6L153.5 355.7L213.2 354.8L273.0 358.3L332.8 363.4L392.5 365.5L452.2 364.5Z" fill="#ff9a02" stroke="#ff9a02" stroke-width="0.35"/><path d="M703.9 376.6L751.0 377.5L810.8 382.7L870.5 385.6L870.5 376.6L870.5 374.9L810.8 373.2L751.0 371.1L691.2 367.9L653.1 365.6L631.5 364.8L571.8 364.5L522.1 365.6L512.0 365.9L499.0 365.6L452.2 364.5L392.5 365.5L332.8 363.4L273.0 358.3L213.2 354.8L153.5 355.7L153.5 362.2L213.2 362.9L252.0 365.6L273.0 367.0L332.8 371.1L392.5 373.6L452.2 373.8L512.0 373.4L571.8 371.5L631.5 371.4L691.2 376.3Z" fill="#ff9100" stroke="#ff9100" stroke-width="0.35"/><path d="M843.4 409.4L870.5 409.4L870.5 398.5L870.5 387.5L870.5 385.6L810.8 382.7L751.0 377.5L703.9 376.6L691.2 376.3L631.5 371.4L571.8 371.5L512.0 373.4L452.2 373.8L392.5 373.6L332.8 371.1L273.0 367.0L252.0 365.6L213.2 362.9L153.5 362.2L153.5 365.6L153.5 369.7L213.2 370.6L273.0 375.2L298.1 376.6L332.8 378.9L392.5 383.5L452.2 383.1L512.0 382.1L571.8 378.5L631.5 378.5L691.2 382.6L751.0 386.6L760.0 387.5L810.8 394.3L833.1 398.5Z" fill="#ff8800" stroke="#ff8800" stroke-width="0.35"/><path d="M739.3 398.5L751.0 401.3L782.2 409.4L810.8 409.4L843.4 409.4L833.1 398.5L810.8 394.3L760.0 387.5L751.0 386.6L691.2 382.6L631.5 378.5L571.8 378.5L512.0 382.1L452.2 383.1L392.5 383.5L332.8 378.9L298.1 376.6L273.0 375.2L213.2 370.6L153.5 369.7L153.5 376.6L153.5 377.8L213.2 377.7L273.0 382.6L319.8 387.5L332.8 391.5L392.5 397.7L452.2 394.2L512.0 394.2L541.9 387.5L571.8 384.8L631.5 386.5L653.0 387.5L691.2 390.2Z" fill="#ff7e00" stroke="#ff7e00" stroke-width="0.35"/><path d="M323.5 409.5L332.8 409.4L392.5 409.4L452.2 409.4L512.0 409.5L512.0 409.4L536.0 398.5L571.8 391.3L631.5 392.8L676.1 398.5L691.2 401.1L730.8 409.4L751.0 409.4L782.2 409.4L751.0 401.3L739.3 398.5L691.2 390.2L653.0 387.5L631.5 386.5L571.8 384.8L541.9 387.5L512.0 394.2L452.2 394.2L392.5 397.7L332.8 391.5L319.8 387.5L273.0 382.6L213.3 377.7L153.5 377.8L153.5 384.4L213.2 383.8L252.5 387.5L273.0 390.4L307.3 398.5Z" fill="#ff7500" stroke="#ff7500" stroke-width="0.35"/><path d="M267.6 398.5L273.0 400.2L291.3 409.4L323.5 409.5L307.3 398.5L273.0 390.4L252.5 387.5L213.2 383.8L153.5 384.4L153.5 387.5L153.5 392.0L213.2 390.5ZM512.0 409.5L512.0 409.4L535.1 409.4L569.1 398.5L571.8 398.0L604.8 398.5L631.5 399.0L691.2 409.4L691.2 409.4L730.8 409.4L691.2 401.1L676.1 398.5L631.5 392.8L571.8 391.3L536.0 398.5L512.0 409.4Z" fill="#ff6b00" stroke="#ff6b00" stroke-width="0.35"/><path d="M153.5 398.5L153.5 400.1L207.0 398.5L213.2 398.3L214.8 398.5L263.0 409.5L273.0 409.4L291.3 409.4L273.0 400.2L267.6 398.5L213.2 390.5L153.5 392.0ZM535.1 409.4L558.2 409.4L571.8 405.2L631.5 407.1L644.7 409.4L691.2 409.4L631.5 399.0L604.8 398.5L571.8 398.0L569.1 398.5Z" fill="#ff6000" stroke="#ff6000" stroke-width="0.35"/><path d="M153.5 400.1L153.5 406.8L213.2 403.5L239.7 409.4L263.0 409.5L214.8 398.5L213.2 398.3L207.0 398.5ZM558.2 409.4L571.8 409.4L631.5 409.4L644.7 409.4L631.5 407.1L571.8 405.2Z" fill="#ff5600" stroke="#ff5600" stroke-width="0.35"/><path d="M153.5 409.4L202.1 409.4L213.2 408.7L216.5 409.4L239.7 409.4L213.2 403.5L153.5 406.8Z" fill="#ff4c00" stroke="#ff4c00" stroke-width="0.35"/><path d="M202.1 409.4L213.2 409.4L216.5 409.4L213.2 408.7Z" fill="#ff4100" stroke="#ff4100" stroke-width="0.35"/><path d="M213.3 125.0L211.3 124.4L213.2 123.6L228.6 124.4L213.3 125.0M332.8 124.5L331.0 124.4L332.8 124.3L333.5 124.4L332.8 124.5M512.0 115.0L502.2 113.5L512.0 110.9L539.5 113.5L512.0 115.0M650.0 102.5L631.8 113.5L631.5 113.5L630.9 113.5L571.8 103.8L569.1 102.5M711.3 102.5L713.6 113.5L706.1 124.4L691.2 125.7L679.5 124.4L631.5 119.9L571.8 122.6L544.0 124.4L512.0 125.7L475.1 124.4L452.2 121.5L439.0 124.4L392.5 127.9L332.8 130.8L273.0 131.9L213.2 133.0L186.5 124.4L213.2 113.5L273.0 115.2L311.2 113.5L332.8 112.2L392.5 107.2L447.0 102.5M153.5 189.4L156.5 190.2L153.5 192.2M738.0 102.5L747.1 113.5L751.0 115.6L810.8 115.7L860.6 124.4L810.8 132.2L796.8 135.4L751.0 138.2L706.1 135.4L691.2 133.3L631.5 126.7L571.8 130.1L512.0 132.1L452.2 130.5L399.5 135.4L392.5 135.9L332.8 137.3L273.0 138.5L213.2 138.6L188.5 135.4L161.7 124.4L166.0 113.5L213.2 105.5L257.5 102.5M153.5 186.3L168.3 190.2L153.5 200.2M870.5 134.4L864.3 135.4L810.8 138.2L751.0 141.5L691.2 137.8L641.6 135.4L631.5 134.3L608.3 135.4L571.8 136.3L512.0 137.5L452.2 137.2L392.5 141.4L332.8 144.3L273.0 143.4L213.2 143.2L153.5 135.5M153.5 105.1L169.8 102.5M822.2 102.5L870.5 108.4M153.5 183.1L180.1 190.2L181.0 201.2L153.5 203.1M870.5 139.8L810.8 142.0L751.0 144.9L691.2 141.1L631.5 139.6L571.8 140.0L512.0 141.9L452.2 143.3L402.6 146.4L392.5 146.7L332.8 149.5L273.0 148.2L213.2 148.0L175.6 146.4L153.5 144.7M153.5 180.0L191.9 190.2L212.6 201.2L153.5 205.2M870.5 144.7L810.8 145.8L799.0 146.4L751.0 147.7L721.6 146.4L691.2 144.4L631.5 144.5L571.8 143.8L512.0 146.3L511.7 146.4L452.2 148.8L392.5 150.6L332.8 153.9L273.0 152.8L213.2 153.4L153.5 152.5M153.5 173.2L167.7 179.2L203.7 190.2L213.2 195.2L228.0 201.2L213.3 203.5L153.5 207.4M870.5 147.8L810.8 148.5L751.0 150.1L691.2 147.8L631.5 149.3L571.8 148.3L512.0 152.0L452.2 153.6L392.5 154.4L347.6 157.3L332.8 159.1L273.0 157.4L213.2 159.0L153.5 161.4M870.5 150.1L810.8 151.1L751.0 152.4L691.2 151.4L631.5 154.0L571.8 154.2L517.7 157.3L512.0 158.0L452.2 158.9L392.5 159.9L332.8 166.1L273.0 165.8L213.2 165.1L179.1 168.3L186.3 179.2L213.2 188.9L215.3 190.2L243.1 201.2L213.2 206.0L153.5 209.6M870.5 152.4L810.8 153.6L751.0 154.8L691.2 155.0L650.3 157.3L631.5 163.6L601.8 168.3L571.8 170.7L512.0 171.1L487.9 168.3L452.2 165.9L413.2 168.3L392.5 169.1L332.8 171.9L273.0 172.1L213.2 174.0L204.8 179.2L213.2 182.3L226.3 190.2L258.2 201.2L213.2 208.4L153.5 211.8M392.5 204.6L345.6 201.2L392.5 194.3L444.0 190.2L452.2 189.7L468.3 190.2L512.0 197.7L515.8 201.2L512.0 201.6L452.2 204.0L392.5 204.6M870.5 154.7L810.8 156.2L751.0 157.2L742.7 157.3L691.3 158.7L646.6 168.3L631.5 173.9L583.7 179.2L571.8 181.1L512.0 186.4L499.3 179.2L452.2 171.9L392.5 173.7L332.8 177.2L273.0 177.5L250.5 179.2L237.2 190.2L273.0 201.1L278.8 201.2L273.0 201.3L213.2 210.8L189.8 212.1L153.5 213.2M248.1 190.2L273.0 197.8L332.8 198.1L379.9 190.2L392.5 182.1L452.2 181.8L464.0 179.2L452.2 177.4L392.5 178.3L377.6 179.2L332.8 181.7L273.0 181.7L248.1 190.2M870.5 156.9L856.6 157.3L810.7 158.7L751.0 159.8L691.2 162.9L666.0 168.3L635.8 179.2L631.5 182.3L578.4 190.2L571.8 192.9L559.9 201.2L512.0 206.4L452.2 209.9L392.5 209.4L332.8 207.9L273.0 209.1L245.4 212.1L213.2 212.8L153.5 214.4M259.1 190.2L273.0 194.4L332.8 194.4L357.6 190.2L332.8 185.7L273.0 185.5L259.1 190.2M870.5 159.5L810.8 161.2L751.0 162.5L691.2 167.0L685.5 168.3L651.5 179.2L636.2 190.2L631.5 197.9L622.7 201.2L571.8 205.9L512.0 211.3L498.9 212.1L452.2 213.3L392.5 213.0L332.8 213.0L273.0 213.2L213.2 214.3L153.5 215.7M270.0 190.2L273.0 191.1L332.8 190.6L335.3 190.2L332.8 189.7L273.0 189.2L270.0 190.2M870.5 162.1L810.8 163.7L751.0 165.1L713.3 168.3L691.2 171.8L667.3 179.2L651.6 190.2L643.3 201.2L631.5 207.3L574.9 212.1L571.8 212.2L512.0 214.1L452.2 215.3L392.5 215.0L332.8 214.8L273.0 214.9L213.2 215.7L153.5 217.0M870.5 164.7L810.8 166.2L751.0 167.7L744.6 168.3L691.2 176.7L683.1 179.2L667.0 190.2L656.9 201.2L636.1 212.1L631.5 212.9L571.8 214.6L512.0 216.5L452.2 217.3L392.5 217.1L332.8 216.5L273.0 216.6L213.2 217.2L153.5 218.2M870.5 167.3L831.5 168.3L810.8 169.1L751.0 173.8L714.3 179.2L691.2 184.3L682.4 190.2L670.5 201.2L651.1 212.1L631.5 215.3L571.8 217.0L512.0 218.8L452.2 219.2L392.5 219.1L332.8 218.3L273.0 218.3L213.2 218.6L153.5 219.5M870.5 171.7L810.8 173.7L760.5 179.2L751.0 181.4L710.3 190.2L691.2 195.1L684.0 201.2L666.2 212.1L631.5 217.8L571.8 219.3L512.0 221.2L452.2 221.2L392.5 221.1L332.8 220.1L273.0 220.0L213.2 220.1L153.5 220.7M870.5 177.0L810.8 178.3L801.8 179.2L756.9 190.2L751.0 190.9L708.1 201.2L691.2 205.7L681.2 212.1L631.5 220.2L571.8 221.7L526.9 223.1L512.0 223.4L452.2 223.1L392.5 223.1L390.9 223.1L332.8 221.9L273.0 221.7L213.2 221.6L153.5 222.0M870.5 183.6L822.8 190.2L810.7 192.1L751.0 199.5L743.9 201.2L708.8 212.1L691.2 213.6L631.5 222.7L614.8 223.1L571.8 223.7L512.0 224.8L452.2 224.6L392.5 224.7L332.8 223.6L273.0 223.4L224.6 223.1L213.2 223.0L196.8 223.1L153.5 223.3M870.5 192.8L810.8 200.7L807.3 201.2L766.5 212.1L751.0 213.5L691.2 218.2L657.9 223.1L631.5 224.6L571.8 225.2L512.0 226.3L452.2 226.0L392.5 226.3L332.8 225.3L273.0 225.1L213.3 224.9L153.5 225.1M870.5 213.3L810.8 215.1L751.0 220.5L691.2 222.8L689.2 223.1L631.5 226.5L571.8 226.8L512.0 227.8L452.2 227.5L392.5 227.8L332.8 227.0L273.0 226.8L213.3 226.8L153.5 226.8M870.5 224.0L837.4 223.1L810.8 222.1L799.7 223.1L751.0 225.2L691.2 225.6L631.5 228.3L571.8 228.3L512.0 229.2L452.2 228.9L392.5 229.4L332.8 228.6L273.0 228.5L213.2 228.7L153.5 228.6M870.5 229.3L810.8 227.4L751.0 228.6L691.2 228.4L631.5 230.1L571.8 229.8L512.0 230.7L452.2 230.4L392.5 231.0L332.8 230.3L273.0 230.2L213.2 230.6L153.5 230.4M870.5 234.3L857.4 234.1L810.8 232.3L751.0 231.9L691.2 231.1L631.5 231.9L571.8 231.4L512.0 232.2L452.2 231.8L392.5 232.5L332.8 232.0L273.0 231.9L213.2 232.5L153.5 232.1M870.5 237.3L810.8 236.0L751.0 235.2L700.6 234.0L691.2 233.9L631.5 233.8L571.8 232.9L512.0 233.7L452.2 233.3L396.4 234.0L392.5 234.1L384.0 234.0L332.8 233.7L273.0 233.6L238.8 234.1L213.2 234.4L171.8 234.1L153.5 233.9M870.5 240.3L810.8 239.0L751.0 238.1L691.2 236.7L631.5 236.2L571.8 234.7L512.0 235.7L452.2 235.1L392.5 236.2L332.8 235.8L273.0 235.8L213.2 236.4L153.5 236.1M870.5 243.2L810.8 241.9L751.0 241.1L691.2 239.6L631.5 238.7L571.8 237.4L512.0 238.1L452.2 237.4L392.5 238.3L332.8 238.0L273.0 238.1L213.2 238.5L153.5 238.3M870.5 246.3L815.8 245.0L810.8 244.9L751.0 244.1L691.2 242.4L631.5 241.2L571.8 240.0L512.0 240.4L452.2 239.7L392.5 240.4L332.8 240.2L273.0 240.4L213.2 240.5L153.5 240.6M870.5 249.7L810.8 248.1L751.0 247.2L691.2 245.3L681.8 245.0L631.5 243.7L571.8 242.7L512.0 242.7L452.2 242.0L392.5 242.5L332.8 242.4L273.0 242.7L213.2 242.5L153.5 242.8M870.5 253.0L810.8 251.3L751.0 250.2L691.2 248.4L631.5 246.6L571.8 245.4L512.0 245.1L508.3 245.0L452.2 244.3L392.5 244.6L332.8 244.6L273.0 245.0L213.2 244.5L153.5 245.0M870.5 256.3L859.1 256.0L810.8 254.5L751.0 253.3L691.2 251.5L631.5 249.9L571.8 248.3L512.0 247.7L452.2 247.1L392.5 247.3L332.8 247.3L273.0 247.6L213.2 247.1L153.5 247.4M870.5 259.0L810.8 257.3L751.0 256.3L736.9 256.0L691.2 254.6L631.5 253.3L571.8 251.2L512.0 250.2L452.2 250.1L392.5 250.1L332.8 250.0L273.0 250.2L213.2 249.8L153.5 249.8M870.5 261.7L810.8 259.9L751.0 258.7L691.2 257.3L631.5 256.4L617.9 256.0L571.8 254.1L512.0 252.8L452.2 253.2L392.5 252.9L332.8 252.8L273.0 252.9L213.2 252.6L153.5 252.1M870.5 264.5L810.8 262.4L751.0 261.0L691.2 259.7L631.5 258.6L571.8 256.7L534.9 256.0L512.0 255.4L466.2 256.0L452.3 256.1L429.8 256.0L392.5 255.7L332.8 255.5L273.0 255.5L213.2 255.3L153.5 254.5M870.5 267.1L864.0 266.9L810.8 265.0L751.0 263.4L691.2 262.1L631.5 260.7L571.8 258.9L512.0 257.7L452.2 258.0L392.5 257.7L332.8 257.4L273.0 257.4L213.3 257.2L153.5 256.6M870.5 268.8L810.8 267.4L790.3 266.9L751.0 265.8L691.2 264.5L631.5 262.9L571.8 261.2L512.0 259.9L452.2 259.8L392.5 259.6L332.8 259.1L273.0 259.1L213.2 258.8L153.5 258.2M870.5 270.5L810.8 269.1L751.0 267.9L695.6 266.9L691.2 266.8L631.5 265.0L571.8 263.4L512.0 262.1L452.2 261.7L392.5 261.5L332.8 260.8L273.0 260.8L213.2 260.4L153.5 259.8M870.5 272.3L810.8 270.7L751.0 269.7L691.2 268.6L631.5 267.1L622.4 266.9L571.8 265.6L512.0 264.3L452.2 263.5L392.5 263.4L332.8 262.4L273.0 262.5L213.2 262.0L153.5 261.5M870.5 274.0L810.8 272.4L751.0 271.4L691.2 270.4L631.5 269.0L571.8 267.7L530.8 266.9L512.0 266.5L452.2 265.4L392.5 265.3L332.8 264.1L273.0 264.2L213.2 263.6L153.5 263.1M870.5 275.7L810.8 274.1L751.0 273.2L691.2 272.1L631.5 270.9L571.8 269.7L512.0 268.5L452.2 267.2L392.5 267.2L382.3 266.9L332.8 265.8L273.0 265.9L213.2 265.3L153.5 264.7M870.5 277.4L810.8 275.8L751.0 275.0L691.2 273.9L631.5 272.7L571.8 271.7L512.0 270.4L452.2 269.1L392.5 269.0L332.8 267.5L273.0 267.5L218.6 266.9L213.2 266.9L153.5 266.3M870.5 279.1L824.5 277.9L810.8 277.5L751.0 276.8L691.2 275.6L631.5 274.6L571.8 273.7L512.0 272.3L452.2 271.0L392.5 270.7L332.8 269.3L273.0 269.0L213.2 268.3L153.5 267.8M870.5 280.8L810.8 279.3L751.0 278.6L716.8 277.9L691.2 277.4L631.5 276.5L571.8 275.6L512.0 274.2L452.2 272.9L392.5 272.5L332.8 271.0L273.0 270.4L213.2 269.7L153.5 269.1M870.5 282.4L810.8 281.2L751.0 280.4L691.2 279.3L631.5 278.4L594.9 277.9L571.8 277.6L512.0 276.2L452.2 274.8L392.5 274.3L332.8 272.8L273.0 271.9L213.2 271.1L153.5 270.5M870.5 284.1L810.8 283.0L751.0 282.2L691.2 281.1L631.5 280.3L571.8 279.7L512.0 278.1L505.0 277.9L452.2 276.7L392.5 276.1L332.8 274.5L273.0 273.4L213.2 272.5L153.5 271.9M870.5 285.7L810.8 284.9L751.0 284.1L691.2 283.0L631.5 282.3L571.8 281.7L512.0 280.3L452.2 278.7L396.0 277.9L392.5 277.9L332.8 276.3L273.0 274.8L213.2 273.9L153.5 273.2M870.5 287.4L810.8 286.7L751.0 285.9L691.2 284.9L631.5 284.3L571.8 283.8L512.0 282.6L452.2 281.1L392.5 280.1L332.7 278.1L328.7 277.9L273.0 276.3L213.2 275.3L153.5 274.6M870.5 289.0L849.1 288.9L810.8 288.6L751.0 287.7L691.2 286.8L631.5 286.2L571.8 285.9L512.0 284.8L452.2 283.5L392.5 282.4L332.8 280.8L277.1 277.9L273.0 277.8L213.2 276.7L153.5 275.9M870.5 291.2L810.8 290.7L751.0 289.7L703.8 288.9L691.2 288.7L631.5 288.2L571.8 288.0L512.0 287.0L452.2 285.9L392.5 284.7L332.8 283.4L273.0 280.8L213.2 278.4L197.2 277.9L153.5 277.3M870.5 293.4L810.8 292.9L751.0 291.9L691.2 290.9L631.5 290.4L571.8 290.2L512.0 289.3L485.2 288.9L452.2 288.3L392.5 287.0L332.8 286.1L273.0 284.0L213.2 281.6L153.5 279.9M870.5 295.6L810.8 295.0L751.0 294.1L691.2 293.2L631.5 292.7L571.8 292.6L512.0 291.6L452.2 290.7L392.5 289.4L345.3 288.9L332.8 288.7L273.0 287.2L213.2 284.7L153.5 283.5M870.5 297.7L810.8 297.2L751.0 296.3L691.2 295.4L631.5 295.0L571.8 295.0L512.0 293.9L452.2 293.2L392.5 292.1L332.8 291.5L273.0 290.2L236.8 288.9L213.2 287.9L153.5 287.1M870.5 299.9L863.2 299.8L810.8 299.3L751.0 298.5L691.2 297.7L631.5 297.3L571.8 297.4L512.0 296.2L452.2 295.6L392.5 294.7L332.8 294.2L273.0 292.8L213.2 290.9L153.5 290.5M870.5 302.9L810.8 301.9L751.0 300.9L691.2 300.0L669.8 299.8L631.5 299.6L571.8 299.7L512.0 298.5L452.2 298.0L392.5 297.4L332.8 296.9L273.0 295.4L213.2 294.0L153.5 293.8M870.5 305.8L810.8 304.6L751.0 303.8L691.2 303.0L631.5 302.8L571.8 302.4L512.0 301.1L452.2 300.5L392.5 300.1L352.9 299.8L332.8 299.7L273.0 298.1L213.2 297.0L153.5 297.1M870.5 308.8L810.8 307.3L751.0 306.7L691.2 306.1L631.5 306.0L571.8 305.1L512.0 304.0L452.2 303.7L392.5 303.0L332.8 302.7L273.0 300.9L213.2 300.1L153.5 300.3M870.5 311.8L838.5 310.8L810.8 310.1L751.0 309.6L691.2 309.2L631.5 309.2L571.8 307.7L512.0 306.9L452.2 306.8L392.5 305.9L332.8 305.7L273.0 304.4L213.2 303.3L153.5 303.4M870.5 315.1L810.8 313.2L751.0 312.7L691.2 312.4L631.5 312.3L585.2 310.8L571.8 310.4L512.0 309.8L452.2 310.0L392.5 308.8L332.8 308.7L273.0 307.8L213.2 306.4L153.5 306.5M870.5 318.4L810.8 316.4L751.0 316.0L691.2 315.7L631.5 315.5L571.8 314.1L512.0 313.2L452.2 313.2L392.5 312.0L332.8 311.7L273.0 311.1L258.4 310.8L213.2 309.6L153.5 309.7M870.5 321.7L810.8 319.7L751.0 319.2L691.2 318.9L631.5 318.6L571.8 318.0L512.0 316.8L452.2 316.5L392.5 315.6L332.8 314.7L273.0 314.1L213.2 312.8L153.5 312.7M870.5 325.7L810.7 323.5L751.0 322.9L691.2 322.5L638.9 321.8L631.5 321.7L602.7 321.8L571.8 321.9L568.5 321.8L512.0 320.4L452.2 319.7L392.5 319.3L332.8 317.7L273.0 317.0L213.2 315.9L153.5 315.7M870.5 329.8L810.8 328.0L751.0 327.9L691.2 327.7L631.5 326.3L571.8 326.7L512.0 324.8L452.2 323.5L392.5 323.2L363.4 321.8L332.8 320.7L273.0 319.9L213.2 319.1L153.5 318.6M870.5 334.1L821.1 332.7L810.8 332.5L776.0 332.7L751.0 332.9L691.2 332.9L685.8 332.7L631.5 330.9L571.8 331.5L512.0 329.8L452.2 328.3L392.5 327.8L332.8 325.5L273.0 323.5L213.2 322.6L168.2 321.8L153.5 321.6M870.5 339.1L810.8 338.2L751.0 337.8L691.2 337.6L631.5 336.3L571.8 336.5L512.0 335.0L452.2 333.1L420.9 332.7L392.5 332.4L332.8 331.1L273.0 328.3L213.2 328.0L153.5 325.8M870.5 344.5L810.8 344.0L799.8 343.7L751.0 342.7L691.2 342.3L631.5 342.1L571.8 341.6L512.0 340.7L452.2 339.0L392.5 338.2L332.8 336.7L273.0 333.2L213.2 333.4L202.5 332.7L153.5 330.1M870.5 352.7L810.8 352.1L751.0 349.6L691.2 348.1L631.5 348.0L571.8 347.3L512.0 347.0L452.2 344.8L392.5 344.0L382.3 343.7L332.8 342.2L273.0 340.1L213.2 338.6L153.5 335.2M870.5 359.7L810.8 359.1L751.0 357.1L699.3 354.6L691.2 354.3L631.5 353.9L571.8 353.3L512.0 354.0L452.2 350.8L392.5 350.3L332.8 347.9L273.0 346.2L213.2 343.7L210.9 343.7L153.5 341.7M870.5 366.5L810.8 365.8L800.3 365.6L751.0 364.8L691.2 360.9L631.5 359.3L571.8 359.0L512.0 360.0L452.2 357.3L392.5 357.2L352.9 354.6L332.8 353.7L273.0 351.6L213.2 349.2L153.5 348.7M870.5 374.9L810.8 373.2L751.0 371.1L691.2 367.9L653.1 365.6L631.5 364.8L571.8 364.5L522.1 365.6L512.0 365.9L499.0 365.6L452.2 364.5L392.5 365.5L332.8 363.4L273.0 358.3L213.2 354.8L153.5 355.7M870.5 385.6L810.8 382.7L751.0 377.5L703.9 376.6L691.2 376.3L631.5 371.4L571.8 371.5L512.0 373.4L452.2 373.8L392.5 373.6L332.8 371.1L273.0 367.0L252.0 365.6L213.2 362.9L153.5 362.2M843.4 409.4L833.1 398.5L810.8 394.3L760.0 387.5L751.0 386.6L691.2 382.6L631.5 378.5L571.8 378.5L512.0 382.1L452.2 383.1L392.5 383.5L332.8 378.9L298.1 376.6L273.0 375.2L213.2 370.6L153.5 369.7M782.2 409.4L751.0 401.3L739.3 398.5L691.2 390.2L653.0 387.5L631.5 386.5L571.8 384.8L541.9 387.5L512.0 394.2L452.2 394.2L392.5 397.7L332.8 391.5L319.8 387.5L273.0 382.6L213.3 377.7L153.5 377.8M323.5 409.5L307.3 398.5L273.0 390.4L252.5 387.5L213.2 383.8L153.5 384.4M730.8 409.4L691.2 401.1L676.1 398.5L631.5 392.8L571.8 391.3L536.0 398.5L512.0 409.4L512.0 409.4M291.3 409.4L273.0 400.2L267.6 398.5L213.2 390.5L153.5 392.0M691.2 409.4L631.5 399.0L604.8 398.5L571.8 398.0L569.1 398.5L535.1 409.4M263.0 409.5L214.8 398.5L213.2 398.3L207.0 398.5L153.5 400.1M644.7 409.4L631.5 407.1L571.8 405.2L558.2 409.4M239.7 409.4L213.2 403.5L153.5 406.8M216.5 409.4L213.2 408.7L202.1 409.4" fill="none" stroke="#fff" stroke-opacity="0.42" stroke-width="0.33"/></g>
<clipPath id="mc"><rect x="153.5" y="102.5" width="717.0" height="306.95"/></clipPath><g clip-path="url(#mc)"><path d="M152.1 425.1L154.9 393.8M152.1 425.1L142.4 429.2M151.3 414.0L155.7 382.9M151.3 414.0L141.4 417.7M149.4 402.7L157.6 372.4M149.4 402.7L139.1 405.1M146.9 390.8L160.1 362.3M146.9 390.8L136.3 391.3M148.8 386.7L143.5 387.0M143.4 377.6L163.6 353.6M143.4 377.6L133.0 375.4M146.3 374.2L141.1 373.1M141.5 364.7L165.5 344.5M141.5 364.7L131.6 360.8M144.9 361.8L140.0 359.9M139.9 351.5L167.1 335.8M139.9 351.5L130.9 345.9M143.8 349.3L139.3 346.5M138.9 338.6L168.1 326.8M138.9 338.6L130.8 331.8M143.1 336.9L139.1 333.5M138.3 325.8L168.7 317.7M138.3 325.8L131.1 318.1M142.7 324.6L139.1 320.8M138.3 314.9L168.7 306.7M138.3 314.9L131.1 307.1M142.7 313.7L139.1 309.8M138.3 303.9L168.7 295.8M138.3 303.9L131.1 296.1M142.7 302.7L139.1 298.8M138.1 292.1L168.9 285.6M138.1 292.1L131.3 284.0M142.5 291.2L139.1 287.1M138.2 281.4L168.8 274.4M138.2 281.4L131.2 273.4M142.6 280.4L139.1 276.4M138.3 270.7L168.7 263.1M138.3 270.7L131.2 262.9M142.6 269.6L135.5 261.8M147.0 268.6L143.5 264.6M138.3 260.0L168.7 251.9M138.3 260.0L131.1 252.3M142.7 258.9L135.5 251.1M147.0 257.7L143.4 253.8M138.3 248.8L168.7 241.2M138.3 248.8L131.2 240.9M142.6 247.7L135.5 239.8M147.0 246.6L139.9 238.8M138.1 237.3L168.9 230.8M138.1 237.3L131.3 229.2M142.5 236.4L135.7 228.3M146.9 235.4L140.1 227.3M151.3 234.5L147.9 230.4M138.0 225.3L169.0 220.9M138.0 225.3L131.7 216.7M142.4 224.6L136.2 216.1M146.9 224.0L140.6 215.4M151.3 223.4L145.1 214.8M137.9 213.5L169.1 210.8M137.9 213.5L132.1 204.6M142.3 213.1L136.6 204.2M146.8 212.7L141.1 203.8M151.3 212.3L145.5 203.4M137.8 202.3L169.2 200.1M137.8 202.3L132.2 193.3M142.3 201.9L136.7 193.0M146.8 201.6L141.2 192.6M151.3 201.3L148.5 196.8M137.8 191.0L169.2 189.4M137.8 191.0L132.4 181.9M142.3 190.8L136.9 181.7M146.8 190.6L141.3 181.5M137.8 180.1L169.2 178.4M137.8 180.1L132.4 171.0M142.3 179.8L136.9 170.7M146.8 179.6L144.1 175.0M137.8 168.3L169.2 168.3M137.8 168.3L132.8 158.9M142.3 168.3L137.3 158.9M137.8 157.3L169.2 157.3M137.8 157.3L132.8 148.0M142.3 157.3L139.8 152.6M137.8 146.4L169.2 146.4M137.8 146.4L132.8 137.0M137.8 135.4L169.2 135.4M142.3 135.4L139.8 130.7M137.8 125.2L169.2 123.6M142.3 125.0L139.6 120.5M137.9 114.8L169.1 112.1M142.3 114.4L139.5 110.0M138.7 107.9L168.3 97.1M138.7 107.9L130.9 100.8M211.9 425.1L214.6 393.8M211.9 425.1L202.1 429.2M211.3 414.1L215.2 382.9M211.3 414.1L201.4 417.9M210.5 403.0L216.0 372.1M210.5 403.0L200.4 406.3M210.5 392.0L216.0 361.1M210.5 392.0L200.4 395.3M211.3 387.6L206.3 389.2M210.0 381.0L216.5 350.2M210.0 381.0L199.8 383.9M210.9 376.6L205.8 378.0M209.2 369.8L217.3 339.5M209.2 369.8L198.9 372.2M210.4 365.5L205.2 366.6M204.9 357.0L221.6 330.4M204.9 357.0L194.4 356.2M207.3 353.2L202.0 352.8M199.7 340.6L226.8 324.9M199.7 340.6L190.7 334.9M203.6 338.3L199.1 335.5M198.6 327.4L227.9 316.1M198.6 327.4L190.6 320.4M202.8 325.8L198.8 322.3M198.2 315.4L228.3 306.2M198.2 315.4L190.7 307.9M202.5 314.1L198.8 310.3M198.3 304.7L228.2 295.0M198.3 304.7L190.7 297.3M202.6 303.3L198.8 299.6M198.5 294.2L228.0 283.5M198.5 294.2L190.6 287.1M202.7 292.7L198.8 289.1M198.0 281.4L228.5 274.4M198.0 281.4L191.0 273.4M202.3 280.4L198.9 276.4M198.2 271.3L228.3 262.6M198.2 271.3L190.8 263.6M202.5 270.0L195.1 262.4M206.8 268.8L203.1 265.0M198.2 260.6L228.3 251.4M198.2 260.6L190.7 253.1M202.5 259.2L195.0 251.8M206.8 257.9L203.1 254.2M198.1 249.1L228.4 240.9M198.1 249.1L190.9 241.3M202.4 247.9L195.2 240.2M206.8 246.7L199.5 239.0M197.8 236.8L228.7 231.3M197.8 236.8L191.3 228.4M202.2 236.0L195.7 227.6M206.7 235.2L200.1 226.9M211.1 234.4L207.8 230.3M197.7 225.0L228.8 221.2M197.7 225.0L191.6 216.3M202.1 224.5L196.1 215.8M206.6 223.9L200.5 215.2M211.1 223.4L205.0 214.7M197.6 213.2L228.9 211.0M197.6 213.2L192.0 204.2M202.1 212.9L196.5 203.9M206.6 212.6L200.9 203.6M211.1 212.3L205.4 203.3M197.6 202.3L228.9 200.1M197.6 202.3L192.0 193.3M202.1 201.9L196.5 193.0M206.6 201.6L200.9 192.6M211.1 201.3L208.2 196.8M197.6 191.3L228.9 189.1M197.6 191.3L192.0 182.3M202.1 191.0L196.5 182.0M206.6 190.7L200.9 181.7M197.6 180.6L228.9 177.9M197.6 180.6L191.8 171.7M202.1 180.2L196.3 171.3M206.6 179.8L203.7 175.4M197.6 168.3L228.9 168.3M197.6 168.3L192.6 158.9M202.1 168.3L197.1 158.9M197.6 156.5L228.9 158.1M197.6 156.5L193.1 146.9M202.1 156.7L199.8 151.9M197.6 146.4L228.9 146.4M197.6 146.4L192.6 137.0M197.6 135.4L228.9 135.4M202.1 135.4L199.6 130.7M197.6 125.5L228.9 123.3M202.1 125.2L199.3 120.7M198.0 117.0L228.5 109.9M202.3 116.0L198.9 112.0M198.8 108.6L227.7 96.4M198.8 108.6L190.6 102.0M259.1 416.8L286.9 402.1M259.1 416.8L250.3 410.9M259.1 405.9L286.9 391.1M259.1 405.9L250.3 399.9M259.1 394.9L286.9 380.2M259.1 394.9L250.3 389.0M259.3 384.2L286.7 369.0M259.3 384.2L250.4 378.4M259.3 373.2L286.7 358.0M259.3 373.2L250.4 367.4M263.2 371.0L258.8 368.1M259.8 363.2L286.2 346.1M259.8 363.2L250.6 358.0M263.6 360.7L259.0 358.2M260.0 352.5L286.0 334.9M260.0 352.5L250.6 347.5M263.7 349.9L259.0 347.4M260.1 341.7L285.9 323.7M260.1 341.7L250.7 336.9M263.8 339.1L259.1 336.7M260.5 331.2L285.5 312.3M260.5 331.2L250.9 326.7M264.1 328.5L259.3 326.3M263.8 323.5L282.2 298.1M263.8 323.5L253.3 322.0M266.4 319.8L255.9 318.4M268.1 314.8L277.9 284.9M268.1 314.8L257.7 316.6M269.5 310.5L259.1 312.3M270.9 306.2L260.5 308.0M261.5 299.6L284.5 278.2M261.5 299.6L251.5 296.1M264.8 296.5L254.8 293.0M258.5 284.0L287.5 271.8M258.5 284.0L250.3 277.4M262.7 282.3L254.5 275.6M257.9 271.3L288.1 262.6M257.9 271.3L250.5 263.6M262.2 270.0L254.9 262.4M266.6 268.8L262.9 265.0M257.8 260.0L288.2 251.9M257.8 260.0L250.6 252.3M262.2 258.9L255.0 251.1M266.5 257.7L262.9 253.8M257.6 248.3L288.4 241.7M257.6 248.3L250.8 240.2M262.0 247.3L255.2 239.2M266.4 246.4L259.6 238.3M257.5 236.5L288.5 231.6M257.5 236.5L251.1 228.0M261.9 235.8L255.6 227.3M266.4 235.1L260.0 226.6M270.8 234.4L264.4 225.9M257.4 224.7L288.6 221.4M257.4 224.7L251.5 215.9M261.9 224.3L255.9 215.5M266.3 223.8L260.4 215.0M270.8 223.3L264.9 214.5M275.3 222.8L272.3 218.5M257.3 213.2L288.7 211.0M257.3 213.2L251.7 204.2M261.8 212.9L256.2 203.9M266.3 212.6L260.7 203.6M270.8 212.3L268.0 207.8M257.3 202.0L288.7 200.3M257.3 202.0L251.9 192.9M261.8 201.7L256.4 192.7M266.3 201.5L260.8 192.4M270.8 201.3L268.1 196.7M257.3 190.7L288.7 189.7M257.3 190.7L252.0 181.6M261.8 190.6L256.5 181.4M266.3 190.4L263.7 185.8M257.3 179.8L288.7 178.7M257.3 179.8L252.0 170.6M261.8 179.6L256.5 170.4M257.3 168.5L288.7 168.0M257.3 168.5L252.2 159.3M261.8 168.5L259.2 163.8M257.3 156.5L288.7 158.1M257.3 156.5L252.8 146.9M261.8 156.7L259.6 151.9M257.3 146.1L288.7 146.6M261.8 146.2L259.4 141.4M257.3 135.4L288.7 135.4M257.3 135.4L252.3 126.0M257.4 126.1L288.6 122.8M261.9 125.6L258.9 121.2M257.5 115.6L288.5 111.3M261.9 115.0L258.8 110.7M258.8 109.1L287.2 95.9M258.8 109.1L250.3 102.8M318.3 415.6L347.2 403.3M318.3 415.6L310.1 408.9M317.9 403.6L347.6 393.4M317.9 403.6L310.2 396.4M317.7 391.9L347.8 383.2M317.7 391.9L310.3 384.2M317.5 380.4L348.0 372.8M317.5 380.4L310.4 372.5M321.9 379.3L318.3 375.3M317.3 368.6L348.2 362.6M317.3 368.6L310.7 360.4M321.8 367.7L318.4 363.6M317.3 357.6L348.2 351.6M317.3 357.6L310.7 349.4M321.8 356.8L318.4 352.7M317.3 346.7L348.2 340.7M317.3 346.7L310.7 338.4M321.8 345.8L315.1 337.6M317.4 336.0L348.1 329.4M317.4 336.0L310.6 327.9M321.8 335.0L315.0 326.9M317.4 325.0L348.1 318.5M317.4 325.0L310.6 316.9M321.8 324.1L315.0 316.0M317.5 314.3L348.0 307.3M317.5 314.3L310.5 306.3M321.8 313.3L314.9 305.3M326.2 312.3L322.7 308.3M317.5 303.4L348.0 296.3M317.5 303.4L310.5 295.4M321.8 302.3L314.9 294.3M326.2 301.3L322.7 297.3M317.7 293.5L347.8 284.3M317.7 293.5L310.2 286.0M322.0 292.1L314.5 284.6M326.3 290.8L322.6 287.1M318.0 283.3L347.5 272.5M318.0 283.3L310.1 276.2M322.2 281.7L314.3 274.6M317.5 270.7L348.0 263.1M317.5 270.7L310.4 262.9M321.9 269.6L314.8 261.8M326.2 268.6L322.7 264.6M317.2 258.4L348.3 253.5M317.2 258.4L310.9 250.0M321.7 257.7L315.3 249.3M326.1 257.0L319.8 248.6M317.1 246.7L348.4 243.4M317.1 246.7L311.2 237.9M321.6 246.2L315.7 237.4M326.1 245.7L320.2 236.9M330.6 245.2L327.6 240.8M317.1 235.1L348.4 233.0M317.1 235.1L311.5 226.2M321.6 234.8L316.0 225.8M326.1 234.5L320.4 225.5M330.6 234.2L324.9 225.2M335.0 233.9L332.2 229.4M317.1 223.9L348.4 222.3M317.1 223.9L311.6 214.8M321.6 223.7L316.1 214.6M326.1 223.4L320.6 214.4M330.6 223.2L325.1 214.1M335.0 223.0L332.3 218.4M317.1 212.7L348.4 211.6M317.1 212.7L311.8 203.5M321.6 212.5L316.3 203.3M326.1 212.4L320.8 203.2M330.6 212.2L325.3 203.0M335.0 212.0L332.4 207.5M317.1 201.4L348.4 200.9M317.1 201.4L311.9 192.2M321.6 201.4L316.4 192.1M326.1 201.3L320.9 192.0M330.6 201.2L328.0 196.6M317.1 191.0L348.4 189.4M317.1 191.0L311.6 181.9M321.6 190.8L316.1 181.7M326.1 190.6L323.3 186.0M317.1 180.6L348.4 177.9M317.1 180.6L311.3 171.7M321.6 180.2L315.8 171.3M317.1 168.8L348.4 167.7M317.1 168.8L311.8 159.6M317.1 157.6L348.4 157.0M317.1 157.6L311.9 148.3M317.1 146.1L348.4 146.6M317.1 146.1L312.2 136.6M317.1 135.9L348.4 134.8M317.1 135.9L311.8 126.8M317.1 124.4L348.4 124.4M321.6 124.4L319.1 119.7M317.5 117.0L348.0 109.9M321.8 116.0L318.4 112.0M318.5 109.1L347.0 95.9M318.5 109.1L310.1 102.8M389.8 424.9L395.2 394.0M390.6 420.5L385.5 422.1M383.5 411.3L401.5 385.6M383.5 411.3L373.0 410.1M379.2 395.8L405.8 379.2M379.2 395.8L370.0 390.5M378.0 382.7L407.0 370.4M378.0 382.7L369.8 376.0M382.2 380.9L378.1 377.6M377.6 370.5L407.4 360.7M377.6 370.5L369.9 363.1M381.8 369.1L378.0 365.4M377.4 359.0L407.6 350.3M377.4 359.0L370.0 351.3M381.7 357.7L378.1 353.9M377.1 346.9L407.9 340.4M377.1 346.9L370.3 338.8M381.5 346.0L378.1 341.9M377.0 335.4L408.0 330.0M377.0 335.4L370.5 327.1M381.5 334.7L378.2 330.5M377.0 324.2L408.0 319.3M377.0 324.2L370.6 315.7M381.4 323.5L375.1 315.0M377.1 314.1L407.9 307.5M377.1 314.1L370.3 305.9M381.5 313.1L374.7 305.0M385.9 312.2L382.5 308.1M377.3 303.6L407.7 296.0M377.3 303.6L370.2 295.7M381.6 302.5L374.5 294.7M386.0 301.4L382.5 297.5M377.2 292.4L407.8 285.3M377.2 292.4L370.2 284.4M381.6 291.4L374.6 283.4M386.0 290.4L382.5 286.4M377.1 280.9L407.9 274.9M377.1 280.9L370.4 272.7M381.5 280.0L374.8 271.8M385.9 279.2L382.6 275.1M377.0 269.1L408.0 264.8M377.0 269.1L370.7 260.5M381.4 268.5L375.2 259.9M385.9 267.9L379.6 259.3M390.3 267.2L387.2 263.0M377.0 258.2L408.0 253.8M377.0 258.2L370.7 249.6M381.4 257.5L375.2 249.0M385.9 256.9L379.6 248.3M390.3 256.3L387.2 252.0M376.9 246.7L408.1 243.4M376.9 246.7L371.0 237.9M381.4 246.2L375.4 237.4M385.8 245.7L379.9 236.9M390.3 245.2L384.4 236.5M376.8 235.1L408.2 233.0M376.8 235.1L371.2 226.2M381.3 234.8L375.7 225.8M385.8 234.5L380.2 225.5M390.3 234.2L384.7 225.2M394.8 233.9L392.0 229.4M374.2 223.7L410.8 222.4M376.8 212.7L408.2 211.6M376.8 212.7L371.5 203.5M381.3 212.5L376.0 203.3M385.8 212.4L380.5 203.2M390.3 212.2L385.0 203.0M394.8 212.0L392.1 207.5M376.8 201.7L408.2 200.6M376.8 201.7L371.5 192.5M381.3 201.6L376.0 192.4M385.8 201.4L380.5 192.2M390.3 201.2L387.7 196.6M376.8 190.5L408.2 189.9M376.8 190.5L371.7 181.2M381.3 190.4L376.2 181.1M385.8 190.3L380.7 181.0M376.8 179.5L408.2 179.0M376.8 179.5L371.7 170.2M381.3 179.4L376.2 170.2M385.8 179.4L383.2 174.7M376.8 169.1L408.2 167.5M376.8 169.1L371.4 160.0M381.3 168.9L378.6 164.3M377.0 160.0L408.0 154.6M377.0 160.0L370.5 151.7M376.8 146.1L408.2 146.6M376.8 146.1L372.0 136.6M376.9 133.7L408.1 137.0M381.4 134.2L379.4 129.3M376.8 124.7L408.2 124.2M381.3 124.6L378.7 120.0M377.0 116.2L408.0 110.7M381.5 115.4L378.2 111.2M377.3 106.6L407.7 98.4M381.7 105.4L378.1 101.5M455.0 424.9L449.5 394.0M454.2 420.5L450.0 423.7M453.6 414.1L450.9 382.8M453.2 409.6L448.8 412.5M443.7 400.7L460.8 374.4M443.7 400.7L433.1 399.8M439.1 385.1L465.4 368.0M439.1 385.1L429.8 380.0M437.9 372.0L466.6 359.2M437.9 372.0L429.6 365.5M437.4 359.7L467.1 349.5M437.4 359.7L429.7 352.5M437.2 348.0L467.3 339.3M437.2 348.0L429.8 340.4M437.0 336.2L467.5 329.2M437.0 336.2L430.0 328.2M441.3 335.2L437.9 331.2M436.9 325.0L467.6 318.5M436.9 325.0L430.1 316.9M441.3 324.1L437.9 320.0M437.0 314.6L467.5 307.0M437.0 314.6L429.9 306.7M441.4 313.5L437.8 309.6M437.8 306.0L466.7 293.7M437.8 306.0L429.6 299.3M441.9 304.2L433.7 297.5M437.5 294.2L467.0 283.5M437.5 294.2L429.6 287.1M441.7 292.7L433.8 285.6M436.8 280.6L467.7 275.2M436.8 280.6L430.3 272.3M441.2 279.8L434.7 271.5M445.7 279.1L442.4 274.9M436.7 269.1L467.8 264.8M436.7 269.1L430.5 260.5M441.2 268.5L434.9 259.9M445.6 267.9L439.4 259.3M450.1 267.2L447.0 263.0M436.6 257.6L467.9 254.3M436.6 257.6L430.7 248.8M441.1 257.1L435.2 248.4M445.6 256.7L439.7 247.9M450.1 256.2L444.1 247.4M436.6 246.4L467.9 243.6M436.6 246.4L430.8 237.5M441.1 246.0L435.3 237.1M445.6 245.6L439.8 236.7M450.1 245.2L444.3 236.3M454.5 244.8L451.7 240.4M434.0 235.0L470.5 233.1M434.0 223.7L470.5 222.4M443.0 223.4L440.3 218.8M436.6 212.7L467.9 211.6M436.6 212.7L431.3 203.5M441.1 212.5L435.8 203.3M445.6 212.4L440.3 203.2M450.1 212.2L444.8 203.0M454.5 212.0L451.9 207.5M436.6 201.7L467.9 200.6M436.6 201.7L431.3 192.5M441.1 201.6L435.8 192.4M445.6 201.4L440.3 192.2M450.1 201.2L444.8 192.1M436.6 190.7L467.9 189.7M436.6 190.7L431.3 181.6M441.1 190.6L435.8 181.4M445.6 190.4L440.3 181.3M450.1 190.3L447.4 185.7M436.6 179.8L467.9 178.7M436.6 179.8L431.3 170.6M441.1 179.6L435.8 170.4M445.6 179.5L442.9 174.9M436.6 168.8L467.9 167.7M436.6 168.8L431.3 159.6M441.1 168.7L435.8 159.5M436.6 158.4L467.9 156.2M436.6 158.4L431.0 149.4M436.6 147.7L467.9 145.0M436.6 147.7L430.8 138.8M436.6 135.4L467.9 135.4M441.1 135.4L438.6 130.7M438.9 116.1L465.6 132.7M442.8 118.5L443.1 113.2M436.7 115.4L467.8 111.5M441.1 114.8L438.1 110.5M436.8 105.2L467.7 99.8M441.2 104.4L438.0 100.3M501.3 420.9L522.7 398.0M504.4 417.6L499.2 416.3M498.7 406.8L525.3 390.2M502.5 404.4L497.9 401.8M497.4 393.4L526.6 381.6M501.6 391.7L497.6 388.3M497.0 381.2L527.0 372.0M497.0 381.2L489.5 373.7M496.7 369.1L527.3 362.1M496.7 369.1L489.7 361.1M496.5 357.4L527.5 351.9M496.5 357.4L490.0 349.0M496.5 346.4L527.5 340.9M496.5 346.4L490.0 338.0M496.6 335.7L527.4 329.7M496.6 335.7L489.9 327.5M501.0 334.8L497.7 330.7M497.0 326.3L527.0 317.2M497.0 326.3L489.5 318.8M501.3 325.0L497.5 321.3M498.0 317.9L526.0 303.7M498.0 317.9L489.3 311.8M502.0 315.9L497.7 312.8M498.3 307.4L525.7 292.2M498.3 307.4L489.4 301.7M502.2 305.3L497.8 302.4M496.9 293.2L527.1 284.5M496.9 293.2L489.5 285.6M501.2 291.9L493.9 284.3M496.6 281.2L527.4 274.6M496.6 281.2L489.8 273.0M501.0 280.2L494.2 272.1M505.4 279.3L502.0 275.2M496.5 269.7L527.5 264.2M496.5 269.7L490.0 261.3M501.0 268.9L494.4 260.5M505.4 268.1L498.9 259.7M509.8 267.3L506.6 263.1M496.5 258.2L527.5 253.8M496.5 258.2L490.2 249.6M500.9 257.5L494.7 249.0M505.4 256.9L499.1 248.3M509.8 256.3L503.6 247.7M496.4 246.7L527.6 243.4M496.4 246.7L490.5 237.9M500.9 246.2L494.9 237.4M505.3 245.7L499.4 236.9M509.8 245.2L503.9 236.5M514.3 244.8L511.3 240.4M493.7 235.3L530.3 232.8M493.7 224.0L530.3 222.1M502.7 223.6L500.0 219.0M493.7 213.1L530.3 211.2M496.3 201.7L527.7 200.6M496.3 201.7L491.0 192.5M500.8 201.6L495.5 192.4M505.3 201.4L500.0 192.2M509.8 201.2L504.5 192.1M496.3 190.7L527.7 189.7M496.3 190.7L491.0 181.6M500.8 190.6L495.5 181.4M505.3 190.4L500.0 181.3M509.8 190.3L507.2 185.7M496.3 179.8L527.7 178.7M496.3 179.8L491.0 170.6M500.8 179.6L495.5 170.4M505.3 179.5L502.7 174.9M496.3 168.8L527.7 167.7M496.3 168.8L491.0 159.6M500.8 168.7L495.5 159.5M496.3 158.4L527.7 156.2M496.3 158.4L490.7 149.4M497.0 150.9L527.0 141.8M501.3 149.6L497.5 145.9M496.3 136.2L527.7 134.6M500.8 136.0L498.1 131.4M496.3 124.4L527.7 124.4M500.8 124.4L498.3 119.7M496.4 114.8L527.6 112.1M500.8 114.4L498.0 110.0M496.5 105.2L527.5 99.8M501.0 104.4L497.7 100.3M556.6 413.5L586.9 405.4M556.6 413.5L549.4 405.8M556.6 402.6L586.9 394.4M556.6 402.6L549.4 394.8M556.6 391.6L586.9 383.5M556.6 391.6L549.4 383.8M556.5 380.4L587.0 372.8M556.5 380.4L549.4 372.5M556.6 369.7L586.9 361.5M556.6 369.7L549.4 361.9M556.7 359.0L586.8 350.3M556.7 359.0L549.3 351.3M556.7 348.0L586.8 339.3M556.7 348.0L549.3 340.4M556.7 337.0L586.8 328.4M556.7 337.0L549.3 329.4M556.8 326.6L586.7 316.9M556.8 326.6L549.2 319.2M561.1 325.2L557.3 321.5M557.2 316.7L586.3 304.9M557.2 316.7L549.1 309.9M561.4 315.0L557.3 311.6M556.7 304.4L586.8 295.2M556.7 304.4L549.2 296.9M561.0 303.1L557.3 299.4M556.4 292.1L587.1 285.6M556.4 292.1L549.6 284.0M560.8 291.2L554.0 283.1M556.4 281.2L587.1 274.6M556.4 281.2L549.6 273.0M560.8 280.2L554.0 272.1M565.2 279.3L561.8 275.2M556.5 270.7L587.0 263.1M556.5 270.7L549.4 262.9M560.9 269.6L553.8 261.8M565.2 268.6L558.2 260.7M569.6 267.5L566.1 263.5M556.3 258.7L587.2 253.2M556.3 258.7L549.8 250.3M560.7 257.9L554.2 249.6M565.2 257.1L558.6 248.8M569.6 256.4L563.1 248.0M574.0 255.6L570.8 251.4M553.6 247.6L589.9 242.5M553.5 235.6L590.0 232.5M562.5 234.9L559.6 230.4M553.5 224.4L590.0 221.8M562.5 223.7L556.9 214.7M553.5 213.1L590.0 211.2M556.1 202.0L587.4 200.3M556.1 202.0L550.6 192.9M560.6 201.7L555.1 192.7M565.1 201.5L559.6 192.4M569.6 201.3L564.1 192.2M556.1 191.0L587.4 189.4M556.1 191.0L550.6 181.9M560.6 190.8L555.1 181.7M565.1 190.6L559.6 181.5M569.6 190.3L566.8 185.8M556.1 180.1L587.4 178.4M556.1 180.1L550.6 171.0M560.6 179.8L555.1 170.7M565.1 179.6L562.3 175.0M556.1 169.4L587.4 167.2M556.1 169.4L550.5 160.4M560.6 169.1L555.0 160.1M556.1 158.4L587.4 156.2M556.1 158.4L550.5 149.4M560.6 158.1L557.8 153.6M556.3 149.3L587.2 143.4M556.3 149.3L549.7 141.1M556.1 137.0L587.4 133.7M560.6 136.6L557.6 132.2M556.1 125.0L587.4 123.9M560.6 124.8L557.9 120.2M556.0 113.5L587.5 113.5M560.5 113.5L558.1 108.8M556.1 103.9L587.4 101.1M560.6 103.5L557.7 99.0M615.8 410.5L647.2 408.4M615.8 410.5L610.2 401.6M615.9 399.9L647.1 397.1M615.9 399.9L610.1 391.0M615.9 389.2L647.1 385.9M615.9 389.2L610.0 380.4M615.9 378.5L647.1 374.6M615.9 378.5L609.8 369.8M615.9 367.5L647.1 363.7M615.9 367.5L609.8 358.8M616.0 356.8L647.0 352.5M616.0 356.8L609.7 348.2M616.1 346.7L646.9 340.7M616.1 346.7L609.4 338.4M616.1 336.0L646.9 329.4M616.1 336.0L609.3 327.9M616.3 325.5L646.7 318.0M616.3 325.5L609.2 317.7M616.4 315.1L646.6 306.5M616.4 315.1L609.0 307.5M620.7 313.9L617.1 310.1M616.4 304.2L646.6 295.5M616.4 304.2L609.0 296.5M620.7 302.9L617.1 299.1M616.4 293.2L646.6 284.5M616.4 293.2L609.0 285.6M620.7 291.9L613.4 284.3M616.4 282.2L646.6 273.6M616.4 282.2L609.0 274.6M620.7 281.0L613.4 273.4M625.1 279.7L621.4 275.9M616.5 271.5L646.5 262.3M616.5 271.5L609.0 264.0M620.8 270.2L613.3 262.7M625.1 268.9L617.6 261.4M629.4 267.6L625.6 263.8M616.3 259.8L646.7 252.2M616.3 259.8L609.2 251.9M620.6 258.7L613.5 250.8M625.0 257.6L617.9 249.7M629.4 256.5L622.3 248.6M633.7 255.4L630.2 251.5M613.5 248.2L649.5 241.8M613.3 236.3L649.7 231.8M613.3 224.7L649.7 221.5M622.2 223.9L619.3 219.5M613.2 213.4L649.8 210.8M615.8 202.0L647.2 200.3M615.8 202.0L610.4 192.9M620.3 201.7L614.9 192.7M624.8 201.5L619.3 192.4M629.3 201.3L623.8 192.2M633.8 201.0L631.1 196.5M615.8 191.0L647.2 189.4M615.8 191.0L610.4 181.9M620.3 190.8L614.9 181.7M624.8 190.6L619.3 181.5M629.3 190.3L626.6 185.8M615.8 180.1L647.2 178.4M615.8 180.1L610.4 171.0M620.3 179.8L614.9 170.7M624.8 179.6L622.1 175.0M615.8 169.1L647.2 167.5M615.8 169.1L610.4 160.0M620.3 168.9L614.9 159.8M615.8 158.1L647.2 156.5M615.8 158.1L610.4 149.0M615.8 147.2L647.2 145.5M615.8 147.2L610.4 138.1M615.8 136.2L647.2 134.6M620.3 136.0L617.6 131.4M615.8 125.2L647.2 123.6M620.3 125.0L617.6 120.5M615.8 114.3L647.2 112.6M620.3 114.0L617.6 109.5M615.9 103.9L647.1 101.1M620.3 103.5L617.5 99.0M675.6 410.5L706.9 408.4M680.1 410.2L677.3 405.7M675.6 399.6L706.9 397.4M680.1 399.3L677.3 394.8M675.6 388.6L706.9 386.4M680.1 388.3L677.3 383.8M675.6 377.9L706.9 375.2M680.1 377.5L677.2 373.1M675.6 367.0L706.9 364.2M680.1 366.6L677.2 362.1M675.7 356.6L706.8 352.7M680.1 356.0L677.1 351.7M675.7 346.1L706.8 341.2M680.2 345.4L677.0 341.2M675.8 335.7L706.7 329.7M675.8 335.7L669.2 327.5M675.9 325.0L706.6 318.5M675.9 325.0L669.1 316.9M676.0 314.3L706.5 307.3M676.0 314.3L669.0 306.3M680.3 313.3L676.9 309.3M675.9 303.1L706.6 296.6M675.9 303.1L669.1 295.0M680.3 302.2L676.9 298.1M676.0 292.7L706.5 285.1M676.0 292.7L668.9 284.8M680.4 291.6L673.3 283.7M677.3 285.0L705.2 270.8M677.3 285.0L668.6 278.9M681.3 283.0L672.6 276.9M685.3 280.9L676.6 274.9M679.4 277.2L703.1 256.6M679.4 277.2L669.5 273.4M682.8 274.3L672.9 270.5M686.2 271.3L676.3 267.5M676.8 262.1L705.7 249.8M676.8 262.1L668.6 255.4M680.9 260.4L672.7 253.7M685.1 258.6L676.8 251.9M676.1 249.1L706.4 240.9M676.1 249.1L668.9 241.3M680.4 247.9L673.2 240.2M684.8 246.7L677.5 239.0M689.1 245.6L685.5 241.7M676.0 237.6L706.5 230.5M676.0 237.6L669.0 229.6M680.3 236.6L673.4 228.6M684.7 235.6L677.8 227.6M689.1 234.5L682.2 226.5M693.5 233.5L690.0 229.5M673.3 226.9L709.2 219.3M673.2 215.0L709.3 209.3M675.6 202.5L706.9 199.8M675.6 202.5L669.8 193.6M680.1 202.1L674.3 193.2M684.6 201.7L678.8 192.9M689.1 201.4L683.3 192.5M693.5 201.0L690.7 196.5M675.6 191.0L706.9 189.4M675.6 191.0L670.1 181.9M680.1 190.8L674.6 181.7M684.6 190.6L679.1 181.5M689.1 190.3L686.3 185.8M675.6 180.1L706.9 178.4M675.6 180.1L670.1 171.0M680.1 179.8L674.6 170.7M684.6 179.6L681.8 175.0M675.6 169.1L706.9 167.5M675.6 169.1L670.1 160.0M680.1 168.9L674.6 159.8M675.6 157.9L706.9 156.8M675.6 157.9L670.3 148.7M675.6 147.2L706.9 145.5M675.6 147.2L670.1 138.1M675.6 136.5L706.9 134.3M680.1 136.2L677.3 131.7M675.6 125.8L706.9 123.1M680.1 125.4L677.2 121.0M677.5 121.1L705.0 105.9M681.5 118.9L677.0 116.0M675.8 105.2L706.7 99.8M680.2 104.4L677.0 100.3M737.7 417.8L764.3 401.1M741.5 415.4L736.9 412.7M735.8 402.6L766.2 394.4M740.2 401.4L736.6 397.5M735.5 390.3L766.5 384.8M740.0 389.5L736.7 385.3M735.5 379.0L766.5 374.1M739.9 378.3L736.7 374.1M735.5 368.1L766.5 363.1M735.5 368.1L729.1 359.6M735.5 357.1L766.5 352.2M735.5 357.1L729.1 348.6M735.5 346.4L766.5 340.9M735.5 346.4L729.0 338.0M735.5 334.9L766.5 330.5M735.5 334.9L729.2 326.3M735.5 323.9L766.5 319.6M735.5 323.9L729.2 315.4M735.5 313.0L766.5 308.6M735.5 313.0L729.2 304.4M735.5 302.0L766.5 297.6M735.5 302.0L729.2 293.4M739.9 301.4L736.8 297.1M735.5 291.3L766.5 286.4M735.5 291.3L729.1 282.9M739.9 290.6L736.7 286.4M735.7 281.4L766.3 274.4M735.7 281.4L728.7 273.4M740.1 280.4L736.6 276.4M735.8 270.7L766.2 263.1M735.8 270.7L728.7 262.9M740.1 269.6L733.0 261.8M735.8 259.8L766.2 252.2M735.8 259.8L728.7 251.9M740.1 258.7L733.0 250.8M744.5 257.6L741.0 253.7M735.8 248.8L766.2 241.2M735.8 248.8L728.7 240.9M740.1 247.7L733.0 239.8M744.5 246.6L741.0 242.7M735.8 237.8L766.2 230.3M735.8 237.8L728.7 230.0M740.1 236.8L733.0 228.9M744.5 235.7L737.4 227.8M735.6 226.4L766.4 219.8M735.6 226.4L728.8 218.2M740.0 225.4L733.2 217.3M744.4 224.5L737.6 216.4M748.8 223.5L745.4 219.5M735.5 214.6L766.5 209.7M735.5 214.6L729.1 206.1M739.9 213.9L733.6 205.4M744.4 213.2L738.0 204.7M748.8 212.5L745.6 208.2M735.5 203.6L766.5 198.7M735.5 203.6L729.1 195.2M739.9 202.9L733.6 194.4M744.4 202.2L738.0 193.7M735.4 191.6L766.6 188.8M735.4 191.6L729.6 182.7M739.8 191.2L734.1 182.3M744.3 190.8L741.4 186.3M735.3 180.3L766.7 178.1M735.3 180.3L729.7 171.3M739.8 180.0L734.2 171.0M735.3 169.4L766.7 167.2M735.3 169.4L729.7 160.4M739.8 169.1L737.0 164.6M735.3 158.4L766.7 156.2M735.3 158.4L729.7 149.4M735.3 147.4L766.7 145.3M739.8 147.1L737.0 142.6M735.3 135.9L766.7 134.8M739.8 135.8L737.2 131.2M735.9 128.8L766.1 120.1M740.2 127.5L736.6 123.7M735.5 115.9L766.5 111.0M739.9 115.2L736.7 111.0M735.5 105.2L766.5 99.8M740.0 104.4L736.7 100.3M802.9 423.0L818.6 395.9M805.1 419.1L799.9 419.0M804.6 412.9L816.9 384.0M804.6 412.9L794.1 413.9M796.0 392.9L825.5 382.2M800.2 391.4L796.3 387.8M795.3 379.3L826.2 373.8M799.7 378.5L796.5 374.3M795.2 367.8L826.3 363.4M795.2 367.8L789.0 359.2M795.1 356.3L826.4 353.0M795.1 356.3L789.2 347.5M795.1 345.3L826.4 342.0M795.1 345.3L789.2 336.5M795.1 334.1L826.4 331.3M795.1 334.1L789.3 325.2M795.1 323.4L826.4 320.1M795.1 323.4L789.2 314.6M795.1 312.4L826.4 309.1M795.1 312.4L789.2 303.6M795.1 301.5L826.4 298.2M795.1 301.5L789.2 292.7M795.2 290.8L826.3 286.9M795.2 290.8L789.1 282.1M795.3 280.6L826.2 275.2M795.3 280.6L788.8 272.3M799.7 279.8L796.5 275.7M795.3 269.7L826.2 264.2M795.3 269.7L788.8 261.3M799.7 268.9L796.5 264.7M795.5 259.5L826.0 252.4M795.5 259.5L788.5 251.5M799.8 258.5L796.4 254.5M795.5 248.8L826.0 241.2M795.5 248.8L788.4 240.9M799.9 247.7L792.8 239.8M795.4 237.3L826.1 230.8M795.4 237.3L788.6 229.2M799.8 236.4L793.0 228.3M804.2 235.4L800.8 231.4M795.2 225.3L826.3 220.9M795.2 225.3L789.0 216.7M799.7 224.6L793.4 216.1M804.1 224.0L801.0 219.7M795.1 213.8L826.4 210.5M795.1 213.8L789.2 205.0M799.6 213.3L793.7 204.5M804.1 212.8L801.1 208.4M795.1 202.5L826.4 199.8M795.1 202.5L789.3 193.6M799.6 202.1L793.8 193.2M804.1 201.7L801.2 197.3M795.1 191.6L826.4 188.8M795.1 191.6L789.3 182.7M799.6 191.2L793.8 182.3M804.1 190.8L801.2 186.3M795.1 180.6L826.4 177.9M795.1 180.6L789.3 171.7M799.6 180.2L796.7 175.8M795.1 169.6L826.4 166.9M795.1 169.6L789.3 160.8M799.6 169.3L796.7 164.8M795.1 158.7L826.4 155.9M795.1 158.7L789.3 149.8M795.1 147.2L826.4 145.5M795.1 147.2L789.6 138.1M795.1 135.9L826.4 134.8M795.1 135.9L789.8 126.8M795.3 127.2L826.2 121.7M795.3 127.2L788.8 118.8M796.8 120.6L824.7 106.3M800.8 118.5L796.4 115.5M795.3 105.2L826.2 99.8M799.7 104.4L796.5 100.3M860.4 421.5L880.6 397.4M863.3 418.0L858.1 416.9M855.1 401.8L885.9 395.2M859.5 400.8L856.1 396.8M854.8 388.3L886.2 386.7M859.3 388.1L856.6 383.6M854.8 377.4L886.2 375.7M859.3 377.1L856.6 372.6M854.8 366.4L886.2 364.8M859.3 366.2L856.6 361.6M854.8 355.5L886.2 353.8M859.3 355.2L856.6 350.7M854.8 344.5L886.2 342.9M859.3 344.3L856.6 339.7M854.8 333.5L886.2 331.9M859.3 333.3L856.6 328.8M854.8 322.6L886.2 320.9M859.3 322.3L856.6 317.8M854.8 311.6L886.2 310.0M859.3 311.4L856.6 306.8M854.8 300.6L886.2 299.0M859.3 300.4L856.6 295.9M854.8 290.0L886.2 287.8M854.8 290.0L849.2 281.0M854.8 279.0L886.2 276.8M854.8 279.0L849.2 270.0M854.8 268.0L886.2 265.8M854.8 268.0L849.2 259.0M854.8 257.1L886.2 254.9M854.8 257.1L849.2 248.1M855.0 247.2L886.0 242.8M855.0 247.2L848.7 238.6M855.0 236.2L886.0 231.9M855.0 236.2L848.7 227.7M855.0 225.3L886.0 220.9M855.0 225.3L848.7 216.7M855.0 214.3L886.0 209.9M855.0 214.3L848.7 205.7M854.9 202.8L886.1 199.5M854.9 202.8L849.0 194.0M859.4 202.3L856.4 197.9M854.9 191.8L886.1 188.6M854.9 191.8L849.0 183.1M859.4 191.4L856.4 187.0M854.9 180.9L886.1 177.6M854.9 180.9L849.0 172.1M859.4 180.4L856.4 176.0M854.9 169.9L886.1 166.6M854.9 169.9L849.0 161.1M859.4 169.4L856.4 165.1M854.9 158.7L886.1 155.9M854.9 158.7L849.1 149.8M854.9 147.7L886.1 145.0M854.9 147.7L849.1 138.8M855.0 137.6L886.0 133.2M859.4 136.9L856.3 132.7M855.0 126.6L886.0 122.2M859.4 126.0L856.3 121.7M855.0 115.6L886.0 111.3M859.4 115.0L856.3 110.7M855.0 105.2L886.0 99.8M859.5 104.4L856.2 100.3" fill="none" stroke="#000" stroke-opacity="0.88" stroke-width="0.68" stroke-linecap="round"/><path d="M374.2 223.7L373.9 214.6L379.2 223.6ZM434.0 235.0L433.5 225.8L438.9 234.7ZM434.0 223.7L433.6 214.6L438.9 223.6ZM493.7 235.3L493.1 226.2L498.7 235.0ZM493.7 224.0L493.2 214.9L498.7 223.8ZM493.7 213.1L493.2 203.9L498.7 212.8ZM553.6 247.6L552.3 238.5L558.5 246.9ZM553.5 235.6L552.7 226.5L558.5 235.2ZM553.5 224.4L552.8 215.2L558.4 224.0ZM553.5 213.1L553.0 203.9L558.4 212.8ZM613.5 248.2L611.9 239.2L618.4 247.3ZM613.3 236.3L612.2 227.2L618.2 235.7ZM613.3 224.7L612.4 215.5L618.2 224.3ZM613.2 213.4L612.6 204.3L618.2 213.1ZM673.3 226.9L671.4 217.9L678.2 225.9ZM673.2 215.0L671.7 205.9L678.1 214.2Z" fill="#000" stroke="#000" stroke-width="0.5"/></g>
<g><rect x="153.5" y="102.5" width="717.0" height="306.95" fill="none" stroke="#000" stroke-width="1.1"/><path d="M153.5 365.60h24.3M870.5 365.60h-24.3" stroke="#000" stroke-width="1.1"/><path d="M153.5 321.75h24.3M870.5 321.75h-24.3" stroke="#000" stroke-width="1.1"/><path d="M153.5 277.90h24.3M870.5 277.90h-24.3" stroke="#000" stroke-width="1.1"/><path d="M153.5 234.05h24.3M870.5 234.05h-24.3" stroke="#000" stroke-width="1.1"/><path d="M153.5 190.20h24.3M870.5 190.20h-24.3" stroke="#000" stroke-width="1.1"/><path d="M153.5 146.35h24.3M870.5 146.35h-24.3" stroke="#000" stroke-width="1.1"/><path d="M153.5 398.49h12.2M870.5 398.49h-12.2" stroke="#000" stroke-width="1.0"/><path d="M153.5 387.52h12.2M870.5 387.52h-12.2" stroke="#000" stroke-width="1.0"/><path d="M153.5 376.56h12.2M870.5 376.56h-12.2" stroke="#000" stroke-width="1.0"/><path d="M153.5 354.64h12.2M870.5 354.64h-12.2" stroke="#000" stroke-width="1.0"/><path d="M153.5 343.68h12.2M870.5 343.68h-12.2" stroke="#000" stroke-width="1.0"/><path d="M153.5 332.71h12.2M870.5 332.71h-12.2" stroke="#000" stroke-width="1.0"/><path d="M153.5 310.79h12.2M870.5 310.79h-12.2" stroke="#000" stroke-width="1.0"/><path d="M153.5 299.82h12.2M870.5 299.82h-12.2" stroke="#000" stroke-width="1.0"/><path d="M153.5 288.86h12.2M870.5 288.86h-12.2" stroke="#000" stroke-width="1.0"/><path d="M153.5 266.94h12.2M870.5 266.94h-12.2" stroke="#000" stroke-width="1.0"/><path d="M153.5 255.97h12.2M870.5 255.97h-12.2" stroke="#000" stroke-width="1.0"/><path d="M153.5 245.01h12.2M870.5 245.01h-12.2" stroke="#000" stroke-width="1.0"/><path d="M153.5 223.09h12.2M870.5 223.09h-12.2" stroke="#000" stroke-width="1.0"/><path d="M153.5 212.12h12.2M870.5 212.12h-12.2" stroke="#000" stroke-width="1.0"/><path d="M153.5 201.16h12.2M870.5 201.16h-12.2" stroke="#000" stroke-width="1.0"/><path d="M153.5 179.24h12.2M870.5 179.24h-12.2" stroke="#000" stroke-width="1.0"/><path d="M153.5 168.28h12.2M870.5 168.28h-12.2" stroke="#000" stroke-width="1.0"/><path d="M153.5 157.31h12.2M870.5 157.31h-12.2" stroke="#000" stroke-width="1.0"/><path d="M153.5 135.39h12.2M870.5 135.39h-12.2" stroke="#000" stroke-width="1.0"/><path d="M153.5 124.43h12.2M870.5 124.43h-12.2" stroke="#000" stroke-width="1.0"/><path d="M153.5 113.46h12.2M870.5 113.46h-12.2" stroke="#000" stroke-width="1.0"/><path d="M213.25 102.5v10.6M213.25 409.45v-10.6" stroke="#000" stroke-width="1.1"/><path d="M273.00 102.5v10.6M273.00 409.45v-10.6" stroke="#000" stroke-width="1.1"/><path d="M332.75 102.5v10.6M332.75 409.45v-10.6" stroke="#000" stroke-width="1.1"/><path d="M392.50 102.5v10.6M392.50 409.45v-10.6" stroke="#000" stroke-width="1.1"/><path d="M452.25 102.5v10.6M452.25 409.45v-10.6" stroke="#000" stroke-width="1.1"/><path d="M512.00 102.5v10.6M512.00 409.45v-10.6" stroke="#000" stroke-width="1.1"/><path d="M571.75 102.5v10.6M571.75 409.45v-10.6" stroke="#000" stroke-width="1.1"/><path d="M631.50 102.5v10.6M631.50 409.45v-10.6" stroke="#000" stroke-width="1.1"/><path d="M691.25 102.5v10.6M691.25 409.45v-10.6" stroke="#000" stroke-width="1.1"/><path d="M751.00 102.5v10.6M751.00 409.45v-10.6" stroke="#000" stroke-width="1.1"/><path d="M810.75 102.5v10.6M810.75 409.45v-10.6" stroke="#000" stroke-width="1.1"/></g>
<text x="143.9" y="415.15" font-size="14.1" text-anchor="end">0</text>
<text x="143.9" y="371.20" font-size="14.1" text-anchor="end">4</text>
<text x="143.9" y="327.25" font-size="14.1" text-anchor="end">8</text>
<text x="143.9" y="283.30" font-size="14.1" text-anchor="end">12</text>
<text x="143.9" y="239.35" font-size="14.1" text-anchor="end">16</text>
<text x="143.9" y="195.40" font-size="14.1" text-anchor="end">20</text>
<text x="143.9" y="151.45" font-size="14.1" text-anchor="end">24</text>
<text x="143.9" y="107.50" font-size="14.1" text-anchor="end">28</text>
<text transform="translate(153.50 434.40) rotate(-45)" font-size="12.6" text-anchor="middle" dy="0.30em">27_12</text>
<text transform="translate(213.25 434.40) rotate(-45)" font-size="12.6" text-anchor="middle" dy="0.30em">27_15</text>
<text transform="translate(273.00 434.40) rotate(-45)" font-size="12.6" text-anchor="middle" dy="0.30em">27_18</text>
<text transform="translate(332.75 434.40) rotate(-45)" font-size="12.6" text-anchor="middle" dy="0.30em">27_21</text>
<text transform="translate(392.50 434.40) rotate(-45)" font-size="12.6" text-anchor="middle" dy="0.30em">28_00</text>
<text transform="translate(452.25 434.40) rotate(-45)" font-size="12.6" text-anchor="middle" dy="0.30em">28_03</text>
<text transform="translate(512.00 434.40) rotate(-45)" font-size="12.6" text-anchor="middle" dy="0.30em">28_06</text>
<text transform="translate(571.75 434.40) rotate(-45)" font-size="12.6" text-anchor="middle" dy="0.30em">28_09</text>
<text transform="translate(631.50 434.40) rotate(-45)" font-size="12.6" text-anchor="middle" dy="0.30em">28_12</text>
<text transform="translate(691.25 434.40) rotate(-45)" font-size="12.6" text-anchor="middle" dy="0.30em">28_15</text>
<text transform="translate(751.00 434.40) rotate(-45)" font-size="12.6" text-anchor="middle" dy="0.30em">28_18</text>
<text transform="translate(810.75 434.40) rotate(-45)" font-size="12.6" text-anchor="middle" dy="0.30em">28_21</text>
<text transform="translate(870.50 434.40) rotate(-45)" font-size="12.6" text-anchor="middle" dy="0.30em">29_00</text>
<g><rect x="891.2" y="395.85" width="19.70" height="3.20" fill="#8220f0"/><rect x="891.2" y="392.90" width="19.70" height="3.20" fill="#741cf2"/><rect x="891.2" y="389.95" width="19.70" height="3.20" fill="#6619f3"/><rect x="891.2" y="387.01" width="19.70" height="3.20" fill="#5715f5"/><rect x="891.2" y="384.06" width="19.70" height="3.20" fill="#4912f6"/><rect x="891.2" y="381.11" width="19.70" height="3.20" fill="#3a0ef8"/><rect x="891.2" y="378.16" width="19.70" height="3.20" fill="#290afa"/><rect x="891.2" y="375.21" width="19.70" height="3.20" fill="#1906fc"/><rect x="891.2" y="372.26" width="19.70" height="3.20" fill="#0802fe"/><rect x="891.2" y="369.32" width="19.70" height="3.20" fill="#0405fd"/><rect x="891.2" y="366.37" width="19.70" height="3.20" fill="#0b0ff8"/><rect x="891.2" y="363.42" width="19.70" height="3.20" fill="#1219f4"/><rect x="891.2" y="360.47" width="19.70" height="3.20" fill="#1a24f0"/><rect x="891.2" y="357.52" width="19.70" height="3.20" fill="#2231ee"/><rect x="891.2" y="354.57" width="19.70" height="3.20" fill="#2b3dea"/><rect x="891.2" y="351.62" width="19.70" height="3.20" fill="#334ae8"/><rect x="891.2" y="348.68" width="19.70" height="3.20" fill="#3855e7"/><rect x="891.2" y="345.73" width="19.70" height="3.20" fill="#385fea"/><rect x="891.2" y="342.78" width="19.70" height="3.20" fill="#3a69ed"/><rect x="891.2" y="339.83" width="19.70" height="3.20" fill="#3872f0"/><rect x="891.2" y="336.88" width="19.70" height="3.20" fill="#3479f3"/><rect x="891.2" y="333.93" width="19.70" height="3.20" fill="#307ef6"/><rect x="891.2" y="330.99" width="19.70" height="3.20" fill="#2c80f6"/><rect x="891.2" y="328.04" width="19.70" height="3.20" fill="#2882f8"/><rect x="891.2" y="325.09" width="19.70" height="3.20" fill="#2484f8"/><rect x="891.2" y="322.14" width="19.70" height="3.20" fill="#2086fa"/><rect x="891.2" y="319.19" width="19.70" height="3.20" fill="#1b8afa"/><rect x="891.2" y="316.24" width="19.70" height="3.20" fill="#148efa"/><rect x="891.2" y="313.29" width="19.70" height="3.20" fill="#0d94fa"/><rect x="891.2" y="310.35" width="19.70" height="3.20" fill="#099bfb"/><rect x="891.2" y="307.40" width="19.70" height="3.20" fill="#06a5fc"/><rect x="891.2" y="304.45" width="19.70" height="3.20" fill="#04affd"/><rect x="891.2" y="301.50" width="19.70" height="3.20" fill="#01b9fe"/><rect x="891.2" y="298.55" width="19.70" height="3.20" fill="#0abefd"/><rect x="891.2" y="295.60" width="19.70" height="3.20" fill="#1ebefa"/><rect x="891.2" y="292.66" width="19.70" height="3.20" fill="#32bef7"/><rect x="891.2" y="289.71" width="19.70" height="3.20" fill="#45c0f4"/><rect x="891.2" y="286.76" width="19.70" height="3.20" fill="#58c4f3"/><rect x="891.2" y="283.81" width="19.70" height="3.20" fill="#6bc7f2"/><rect x="891.2" y="280.86" width="19.70" height="3.20" fill="#7ecbf1"/><rect x="891.2" y="277.91" width="19.70" height="3.20" fill="#8ccff0"/><rect x="891.2" y="274.96" width="19.70" height="3.20" fill="#95d2f1"/><rect x="891.2" y="272.02" width="19.70" height="3.20" fill="#9ed6f2"/><rect x="891.2" y="269.07" width="19.70" height="3.20" fill="#a7d9f3"/><rect x="891.2" y="266.12" width="19.70" height="3.20" fill="#b0ddf3"/><rect x="891.2" y="263.17" width="19.70" height="3.20" fill="#b9e0f4"/><rect x="891.2" y="260.22" width="19.70" height="3.20" fill="#c2e4f5"/><rect x="891.2" y="257.27" width="19.70" height="3.20" fill="#cce7f6"/><rect x="891.2" y="254.33" width="19.70" height="3.20" fill="#fffec5"/><rect x="891.2" y="251.38" width="19.70" height="3.20" fill="#fffcb5"/><rect x="891.2" y="248.43" width="19.70" height="3.20" fill="#fff9a4"/><rect x="891.2" y="245.48" width="19.70" height="3.20" fill="#fff794"/><rect x="891.2" y="242.53" width="19.70" height="3.20" fill="#fff381"/><rect x="891.2" y="239.58" width="19.70" height="3.20" fill="#ffee6a"/><rect x="891.2" y="236.64" width="19.70" height="3.20" fill="#ffe954"/><rect x="891.2" y="233.69" width="19.70" height="3.20" fill="#ffe43d"/><rect x="891.2" y="230.74" width="19.70" height="3.20" fill="#ffde30"/><rect x="891.2" y="227.79" width="19.70" height="3.20" fill="#ffda2c"/><rect x="891.2" y="224.84" width="19.70" height="3.20" fill="#ffd428"/><rect x="891.2" y="221.89" width="19.70" height="3.20" fill="#ffd024"/><rect x="891.2" y="218.94" width="19.70" height="3.20" fill="#ffca20"/><rect x="891.2" y="216.00" width="19.70" height="3.20" fill="#ffc41c"/><rect x="891.2" y="213.05" width="19.70" height="3.20" fill="#ffbd18"/><rect x="891.2" y="210.10" width="19.70" height="3.20" fill="#ffb613"/><rect x="891.2" y="207.15" width="19.70" height="3.20" fill="#ffaf0f"/><rect x="891.2" y="204.20" width="19.70" height="3.20" fill="#ffa80b"/><rect x="891.2" y="201.25" width="19.70" height="3.20" fill="#ffa106"/><rect x="891.2" y="198.31" width="19.70" height="3.20" fill="#ff9a02"/><rect x="891.2" y="195.36" width="19.70" height="3.20" fill="#ff9100"/><rect x="891.2" y="192.41" width="19.70" height="3.20" fill="#ff8800"/><rect x="891.2" y="189.46" width="19.70" height="3.20" fill="#ff7e00"/><rect x="891.2" y="186.51" width="19.70" height="3.20" fill="#ff7500"/><rect x="891.2" y="183.56" width="19.70" height="3.20" fill="#ff6b00"/><rect x="891.2" y="180.61" width="19.70" height="3.20" fill="#ff6000"/><rect x="891.2" y="177.67" width="19.70" height="3.20" fill="#ff5600"/><rect x="891.2" y="174.72" width="19.70" height="3.20" fill="#ff4c00"/><rect x="891.2" y="171.77" width="19.70" height="3.20" fill="#ff4100"/><rect x="891.2" y="168.82" width="19.70" height="3.20" fill="#ff3400"/><rect x="891.2" y="165.87" width="19.70" height="3.20" fill="#ff2600"/><rect x="891.2" y="162.92" width="19.70" height="3.20" fill="#ff1600"/><rect x="891.2" y="159.98" width="19.70" height="3.20" fill="#ff0800"/><rect x="891.2" y="157.03" width="19.70" height="3.20" fill="#fb0000"/><rect x="891.2" y="154.08" width="19.70" height="3.20" fill="#f20000"/><rect x="891.2" y="151.13" width="19.70" height="3.20" fill="#e90000"/><rect x="891.2" y="148.18" width="19.70" height="3.20" fill="#e10000"/><rect x="891.2" y="145.23" width="19.70" height="3.20" fill="#d80000"/><rect x="891.2" y="142.28" width="19.70" height="3.20" fill="#cf0000"/><rect x="891.2" y="139.34" width="19.70" height="3.20" fill="#c70000"/><rect x="891.2" y="136.39" width="19.70" height="3.20" fill="#be0000"/><rect x="891.2" y="133.44" width="19.70" height="3.20" fill="#c30e0e"/><rect x="891.2" y="130.49" width="19.70" height="3.20" fill="#c81d1d"/><rect x="891.2" y="127.54" width="19.70" height="3.20" fill="#cd2b2b"/><rect x="891.2" y="124.59" width="19.70" height="3.20" fill="#d64444"/><rect x="891.2" y="121.65" width="19.70" height="3.20" fill="#e26666"/><rect x="891.2" y="118.70" width="19.70" height="3.20" fill="#ed8686"/><rect x="891.2" y="115.75" width="19.70" height="3.20" fill="#f6a2a2"/><rect x="891.2" y="112.80" width="19.70" height="3.20" fill="#ffbebe"/><path d="M891.2 395.85H910.9M891.2 392.90H910.9M891.2 389.95H910.9M891.2 387.01H910.9M891.2 384.06H910.9M891.2 381.11H910.9M891.2 378.16H910.9M891.2 375.21H910.9M891.2 372.26H910.9M891.2 369.32H910.9M891.2 366.37H910.9M891.2 363.42H910.9M891.2 360.47H910.9M891.2 357.52H910.9M891.2 354.57H910.9M891.2 351.62H910.9M891.2 348.68H910.9M891.2 345.73H910.9M891.2 342.78H910.9M891.2 339.83H910.9M891.2 336.88H910.9M891.2 333.93H910.9M891.2 330.99H910.9M891.2 328.04H910.9M891.2 325.09H910.9M891.2 322.14H910.9M891.2 319.19H910.9M891.2 316.24H910.9M891.2 313.29H910.9M891.2 310.35H910.9M891.2 307.40H910.9M891.2 304.45H910.9M891.2 301.50H910.9M891.2 298.55H910.9M891.2 295.60H910.9M891.2 292.66H910.9M891.2 289.71H910.9M891.2 286.76H910.9M891.2 283.81H910.9M891.2 280.86H910.9M891.2 277.91H910.9M891.2 274.96H910.9M891.2 272.02H910.9M891.2 269.07H910.9M891.2 266.12H910.9M891.2 263.17H910.9M891.2 260.22H910.9M891.2 257.27H910.9M891.2 254.33H910.9M891.2 251.38H910.9M891.2 248.43H910.9M891.2 245.48H910.9M891.2 242.53H910.9M891.2 239.58H910.9M891.2 236.64H910.9M891.2 233.69H910.9M891.2 230.74H910.9M891.2 227.79H910.9M891.2 224.84H910.9M891.2 221.89H910.9M891.2 218.94H910.9M891.2 216.00H910.9M891.2 213.05H910.9M891.2 210.10H910.9M891.2 207.15H910.9M891.2 204.20H910.9M891.2 201.25H910.9M891.2 198.31H910.9M891.2 195.36H910.9M891.2 192.41H910.9M891.2 189.46H910.9M891.2 186.51H910.9M891.2 183.56H910.9M891.2 180.61H910.9M891.2 177.67H910.9M891.2 174.72H910.9M891.2 171.77H910.9M891.2 168.82H910.9M891.2 165.87H910.9M891.2 162.92H910.9M891.2 159.98H910.9M891.2 157.03H910.9M891.2 154.08H910.9M891.2 151.13H910.9M891.2 148.18H910.9M891.2 145.23H910.9M891.2 142.28H910.9M891.2 139.34H910.9M891.2 136.39H910.9M891.2 133.44H910.9M891.2 130.49H910.9M891.2 127.54H910.9M891.2 124.59H910.9M891.2 121.65H910.9M891.2 118.70H910.9M891.2 115.75H910.9" stroke="#fff" stroke-opacity="0.28" stroke-width="0.6" fill="none"/><text x="929.4" y="390.16" font-size="15.6">-56</text><text x="929.4" y="369.52" font-size="15.6">-49</text><text x="929.4" y="348.88" font-size="15.6">-42</text><text x="929.4" y="328.24" font-size="15.6">-35</text><text x="929.4" y="307.60" font-size="15.6">-28</text><text x="929.4" y="286.96" font-size="15.6">-21</text><text x="929.4" y="266.32" font-size="15.6">-14</text><text x="929.4" y="245.68" font-size="15.6">-7</text><text x="929.4" y="225.04" font-size="15.6">0</text><text x="929.4" y="204.41" font-size="15.6">7</text><text x="929.4" y="183.77" font-size="15.6">14</text><text x="929.4" y="163.13" font-size="15.6">21</text><text x="929.4" y="142.49" font-size="15.6">28</text><text x="929.4" y="121.85" font-size="15.6">35</text></g>
<g><path d="M153.5 546.22H870.5M153.5 529.03H870.5M153.5 511.85H870.5M153.5 494.67H870.5M153.5 477.48H870.5" stroke="#000" stroke-opacity="0.6" stroke-width="1" stroke-dasharray="3.4 5.9" stroke-dashoffset="-0.7" fill="none"/><path d="M204.70 460.3V563.4M255.91 460.3V563.4M307.12 460.3V563.4M358.33 460.3V563.4M409.54 460.3V563.4M460.75 460.3V563.4M511.96 460.3V563.4M563.17 460.3V563.4M614.38 460.3V563.4M665.59 460.3V563.4M716.80 460.3V563.4M768.01 460.3V563.4M819.22 460.3V563.4" stroke="#000" stroke-opacity="0.72" stroke-width="0.65" stroke-dasharray="3.4 5.9" stroke-dashoffset="-2.5" fill="none"/><polyline points="204.70,466.50 255.91,492.50 307.12,486.20 358.33,470.00 409.54,484.50 460.75,481.60 511.96,499.60 563.17,505.60 614.38,537.20 665.59,544.20 716.80,544.60 768.01,548.10 819.22,554.80" fill="none" stroke="#0000ff" stroke-width="1.1" stroke-linejoin="round"/><rect x="153.5" y="460.3" width="717.0" height="103.09999999999997" fill="none" stroke="#000" stroke-width="1.15"/><text x="134.0" y="566.50" font-size="8.6" text-anchor="end">1000.0</text><text x="134.0" y="549.31" font-size="8.6" text-anchor="end">1001.0</text><text x="134.0" y="532.13" font-size="8.6" text-anchor="end">1002.0</text><text x="134.0" y="514.95" font-size="8.6" text-anchor="end">1003.0</text><text x="134.0" y="497.76" font-size="8.6" text-anchor="end">1004.0</text><text x="134.0" y="480.58" font-size="8.6" text-anchor="end">1005.0</text><text x="134.0" y="463.40" font-size="8.6" text-anchor="end">1006.0</text><path d="M153.5 563.40h-14M870.5 563.40h14M153.5 546.22h-14M870.5 546.22h14M153.5 529.03h-14M870.5 529.03h14M153.5 511.85h-14M870.5 511.85h14M153.5 494.67h-14M870.5 494.67h14M153.5 477.48h-14M870.5 477.48h14M153.5 460.30h-14M870.5 460.30h14" stroke="#000" stroke-opacity="0.82" stroke-width="1.2" fill="none"/><path d="M153.5 559.96h-7M870.5 559.96h7M153.5 556.53h-7M870.5 556.53h7M153.5 553.09h-7M870.5 553.09h7M153.5 549.65h-7M870.5 549.65h7M153.5 542.78h-7M870.5 542.78h7M153.5 539.34h-7M870.5 539.34h7M153.5 535.91h-7M870.5 535.91h7M153.5 532.47h-7M870.5 532.47h7M153.5 525.60h-7M870.5 525.60h7M153.5 522.16h-7M870.5 522.16h7M153.5 518.72h-7M870.5 518.72h7M153.5 515.29h-7M870.5 515.29h7M153.5 508.41h-7M870.5 508.41h7M153.5 504.98h-7M870.5 504.98h7M153.5 501.54h-7M870.5 501.54h7M153.5 498.10h-7M870.5 498.10h7M153.5 491.23h-7M870.5 491.23h7M153.5 487.79h-7M870.5 487.79h7M153.5 484.36h-7M870.5 484.36h7M153.5 480.92h-7M870.5 480.92h7M153.5 474.05h-7M870.5 474.05h7M153.5 470.61h-7M870.5 470.61h7M153.5 467.17h-7M870.5 467.17h7M153.5 463.74h-7M870.5 463.74h7" stroke="#000" stroke-opacity="0.55" stroke-width="0.8" fill="none"/><text transform="translate(208.50 590.10) rotate(-45)" font-size="12.6" text-anchor="middle" dy="0.30em">27_12</text><text transform="translate(259.71 590.10) rotate(-45)" font-size="12.6" text-anchor="middle" dy="0.30em">27_15</text><text transform="translate(310.92 590.10) rotate(-45)" font-size="12.6" text-anchor="middle" dy="0.30em">27_18</text><text transform="translate(362.13 590.10) rotate(-45)" font-size="12.6" text-anchor="middle" dy="0.30em">27_21</text><text transform="translate(413.34 590.10) rotate(-45)" font-size="12.6" text-anchor="middle" dy="0.30em">28_00</text><text transform="translate(464.55 590.10) rotate(-45)" font-size="12.6" text-anchor="middle" dy="0.30em">28_03</text><text transform="translate(515.76 590.10) rotate(-45)" font-size="12.6" text-anchor="middle" dy="0.30em">28_06</text><text transform="translate(566.97 590.10) rotate(-45)" font-size="12.6" text-anchor="middle" dy="0.30em">28_09</text><text transform="translate(618.18 590.10) rotate(-45)" font-size="12.6" text-anchor="middle" dy="0.30em">28_12</text><text transform="translate(669.39 590.10) rotate(-45)" font-size="12.6" text-anchor="middle" dy="0.30em">28_15</text><text transform="translate(720.60 590.10) rotate(-45)" font-size="12.6" text-anchor="middle" dy="0.30em">28_18</text><text transform="translate(771.81 590.10) rotate(-45)" font-size="12.6" text-anchor="middle" dy="0.30em">28_21</text><text transform="translate(823.02 590.10) rotate(-45)" font-size="12.6" text-anchor="middle" dy="0.30em">29_00</text><path d="M204.70 563.4v13.4M255.91 563.4v13.4M307.12 563.4v13.4M358.33 563.4v13.4M409.54 563.4v13.4M460.75 563.4v13.4M511.96 563.4v13.4M563.17 563.4v13.4M614.38 563.4v13.4M665.59 563.4v13.4M716.80 563.4v13.4M768.01 563.4v13.4M819.22 563.4v13.4" stroke="#000" stroke-opacity="0.85" stroke-width="1.1" fill="none"/><text transform="translate(91.6 511.85) rotate(-90)" font-size="24.2" text-anchor="middle">PMSL</text></g>
<g><path d="M153.5 702.10H870.5M153.5 687.50H870.5M153.5 672.90H870.5M153.5 658.30H870.5M153.5 643.70H870.5M153.5 629.10H870.5" stroke="#000" stroke-opacity="0.6" stroke-width="1" stroke-dasharray="3.4 5.9" stroke-dashoffset="-0.7" fill="none"/><path d="M204.70 614.5V716.7M255.91 614.5V716.7M307.12 614.5V716.7M358.33 614.5V716.7M409.54 614.5V716.7M460.75 614.5V716.7M511.96 614.5V716.7M563.17 614.5V716.7M614.38 614.5V716.7M665.59 614.5V716.7M716.80 614.5V716.7M768.01 614.5V716.7M819.22 614.5V716.7" stroke="#000" stroke-opacity="0.72" stroke-width="0.65" stroke-dasharray="3.4 5.9" stroke-dashoffset="-2.5" fill="none"/><polyline points="204.70,631.50 255.91,616.00 307.12,653.00 358.33,684.40 409.54,687.90 460.75,685.10 511.96,673.10 563.17,621.80 614.38,634.10 665.59,662.20 716.80,686.80 768.01,703.70 819.22,715.70" fill="none" stroke="#ff0000" stroke-width="1.1" stroke-linejoin="round"/><rect x="153.5" y="614.5" width="717.0" height="102.20000000000005" fill="none" stroke="#000" stroke-width="1.15"/><text x="134.0" y="719.80" font-size="8.6" text-anchor="end">8.0</text><text x="134.0" y="705.20" font-size="8.6" text-anchor="end">9.0</text><text x="134.0" y="690.60" font-size="8.6" text-anchor="end">10.0</text><text x="134.0" y="676.00" font-size="8.6" text-anchor="end">11.0</text><text x="134.0" y="661.40" font-size="8.6" text-anchor="end">12.0</text><text x="134.0" y="646.80" font-size="8.6" text-anchor="end">13.0</text><text x="134.0" y="632.20" font-size="8.6" text-anchor="end">14.0</text><text x="134.0" y="617.60" font-size="8.6" text-anchor="end">15.0</text><path d="M153.5 716.70h-14M870.5 716.70h14M153.5 702.10h-14M870.5 702.10h14M153.5 687.50h-14M870.5 687.50h14M153.5 672.90h-14M870.5 672.90h14M153.5 658.30h-14M870.5 658.30h14M153.5 643.70h-14M870.5 643.70h14M153.5 629.10h-14M870.5 629.10h14M153.5 614.50h-14M870.5 614.50h14" stroke="#000" stroke-opacity="0.82" stroke-width="1.2" fill="none"/><path d="M153.5 713.78h-7M870.5 713.78h7M153.5 710.86h-7M870.5 710.86h7M153.5 707.94h-7M870.5 707.94h7M153.5 705.02h-7M870.5 705.02h7M153.5 699.18h-7M870.5 699.18h7M153.5 696.26h-7M870.5 696.26h7M153.5 693.34h-7M870.5 693.34h7M153.5 690.42h-7M870.5 690.42h7M153.5 684.58h-7M870.5 684.58h7M153.5 681.66h-7M870.5 681.66h7M153.5 678.74h-7M870.5 678.74h7M153.5 675.82h-7M870.5 675.82h7M153.5 669.98h-7M870.5 669.98h7M153.5 667.06h-7M870.5 667.06h7M153.5 664.14h-7M870.5 664.14h7M153.5 661.22h-7M870.5 661.22h7M153.5 655.38h-7M870.5 655.38h7M153.5 652.46h-7M870.5 652.46h7M153.5 649.54h-7M870.5 649.54h7M153.5 646.62h-7M870.5 646.62h7M153.5 640.78h-7M870.5 640.78h7M153.5 637.86h-7M870.5 637.86h7M153.5 634.94h-7M870.5 634.94h7M153.5 632.02h-7M870.5 632.02h7M153.5 626.18h-7M870.5 626.18h7M153.5 623.26h-7M870.5 623.26h7M153.5 620.34h-7M870.5 620.34h7M153.5 617.42h-7M870.5 617.42h7" stroke="#000" stroke-opacity="0.55" stroke-width="0.8" fill="none"/><text transform="translate(208.50 743.40) rotate(-45)" font-size="12.6" text-anchor="middle" dy="0.30em">27_12</text><text transform="translate(259.71 743.40) rotate(-45)" font-size="12.6" text-anchor="middle" dy="0.30em">27_15</text><text transform="translate(310.92 743.40) rotate(-45)" font-size="12.6" text-anchor="middle" dy="0.30em">27_18</text><text transform="translate(362.13 743.40) rotate(-45)" font-size="12.6" text-anchor="middle" dy="0.30em">27_21</text><text transform="translate(413.34 743.40) rotate(-45)" font-size="12.6" text-anchor="middle" dy="0.30em">28_00</text><text transform="translate(464.55 743.40) rotate(-45)" font-size="12.6" text-anchor="middle" dy="0.30em">28_03</text><text transform="translate(515.76 743.40) rotate(-45)" font-size="12.6" text-anchor="middle" dy="0.30em">28_06</text><text transform="translate(566.97 743.40) rotate(-45)" font-size="12.6" text-anchor="middle" dy="0.30em">28_09</text><text transform="translate(618.18 743.40) rotate(-45)" font-size="12.6" text-anchor="middle" dy="0.30em">28_12</text><text transform="translate(669.39 743.40) rotate(-45)" font-size="12.6" text-anchor="middle" dy="0.30em">28_15</text><text transform="translate(720.60 743.40) rotate(-45)" font-size="12.6" text-anchor="middle" dy="0.30em">28_18</text><text transform="translate(771.81 743.40) rotate(-45)" font-size="12.6" text-anchor="middle" dy="0.30em">28_21</text><text transform="translate(823.02 743.40) rotate(-45)" font-size="12.6" text-anchor="middle" dy="0.30em">29_00</text><path d="M204.70 716.7v13.4M255.91 716.7v13.4M307.12 716.7v13.4M358.33 716.7v13.4M409.54 716.7v13.4M460.75 716.7v13.4M511.96 716.7v13.4M563.17 716.7v13.4M614.38 716.7v13.4M665.59 716.7v13.4M716.80 716.7v13.4M768.01 716.7v13.4M819.22 716.7v13.4" stroke="#000" stroke-opacity="0.85" stroke-width="1.1" fill="none"/><text transform="translate(100.3 665.60) rotate(-90)" font-size="23.9" text-anchor="middle">TEMP at 2 M</text></g>
<g><rect x="153.5" y="819.4" width="717.0" height="132.89999999999998" fill="none" stroke="#000" stroke-width="1.15"/><rect x="208.23" y="951.16" width="53.50" height="0.94" fill="#00ff00"/><rect x="263.61" y="904.84" width="53.50" height="47.26" fill="#00ff00"/><rect x="318.99" y="831.36" width="53.50" height="120.74" fill="#00ff00"/><rect x="374.37" y="951.54" width="53.50" height="0.56" fill="#00ff00"/><rect x="429.75" y="937.40" width="53.50" height="14.70" fill="#00ff00"/><rect x="485.13" y="942.62" width="53.50" height="9.48" fill="#00ff00"/><rect x="540.51" y="946.32" width="53.50" height="5.78" fill="#00ff00"/><rect x="595.89" y="931.13" width="53.50" height="20.97" fill="#00ff00"/><rect x="651.27" y="915.28" width="53.50" height="36.82" fill="#00ff00"/><rect x="706.65" y="913.95" width="53.50" height="38.15" fill="#00ff00"/><rect x="762.03" y="933.60" width="53.50" height="18.50" fill="#00ff00"/><rect x="817.41" y="951.35" width="53.09" height="0.75" fill="#00ff00"/><path d="M153.5 933.31H870.5M153.5 914.33H870.5M153.5 895.34H870.5M153.5 876.36H870.5M153.5 857.37H870.5M153.5 838.39H870.5" stroke="#000" stroke-opacity="0.8" stroke-width="0.62" stroke-dasharray="3.4 5.9" stroke-dashoffset="-0.7" fill="none"/><path d="M179.60 819.4V952.3M234.98 819.4V952.3M290.36 819.4V952.3M345.74 819.4V952.3M401.12 819.4V952.3M456.50 819.4V952.3M511.88 819.4V952.3M567.26 819.4V952.3M622.64 819.4V952.3M678.02 819.4V952.3M733.40 819.4V952.3M788.78 819.4V952.3M844.16 819.4V952.3" stroke="#000" stroke-opacity="0.72" stroke-width="0.65" stroke-dasharray="3.4 5.9" stroke-dashoffset="-2.5" fill="none"/><text x="133.0" y="955.76" font-size="9.6" text-anchor="end">0</text><text x="133.0" y="936.77" font-size="9.6" text-anchor="end">2</text><text x="133.0" y="917.78" font-size="9.6" text-anchor="end">4</text><text x="133.0" y="898.80" font-size="9.6" text-anchor="end">6</text><text x="133.0" y="879.81" font-size="9.6" text-anchor="end">8</text><text x="133.0" y="860.83" font-size="9.6" text-anchor="end">10</text><text x="133.0" y="841.84" font-size="9.6" text-anchor="end">12</text><text x="133.0" y="822.86" font-size="9.6" text-anchor="end">14</text><path d="M153.5 952.30h-14M870.5 952.30h14M153.5 933.31h-14M870.5 933.31h14M153.5 914.33h-14M870.5 914.33h14M153.5 895.34h-14M870.5 895.34h14M153.5 876.36h-14M870.5 876.36h14M153.5 857.37h-14M870.5 857.37h14M153.5 838.39h-14M870.5 838.39h14M153.5 819.40h-14M870.5 819.40h14" stroke="#000" stroke-opacity="0.82" stroke-width="1.2" fill="none"/><path d="M153.5 947.55h-7M870.5 947.55h7M153.5 942.81h-7M870.5 942.81h7M153.5 938.06h-7M870.5 938.06h7M153.5 928.57h-7M870.5 928.57h7M153.5 923.82h-7M870.5 923.82h7M153.5 919.07h-7M870.5 919.07h7M153.5 909.58h-7M870.5 909.58h7M153.5 904.84h-7M870.5 904.84h7M153.5 900.09h-7M870.5 900.09h7M153.5 890.60h-7M870.5 890.60h7M153.5 885.85h-7M870.5 885.85h7M153.5 881.10h-7M870.5 881.10h7M153.5 871.61h-7M870.5 871.61h7M153.5 866.86h-7M870.5 866.86h7M153.5 862.12h-7M870.5 862.12h7M153.5 852.62h-7M870.5 852.62h7M153.5 847.88h-7M870.5 847.88h7M153.5 843.13h-7M870.5 843.13h7M153.5 833.64h-7M870.5 833.64h7M153.5 828.89h-7M870.5 828.89h7M153.5 824.15h-7M870.5 824.15h7" stroke="#000" stroke-opacity="0.55" stroke-width="0.8" fill="none"/><text transform="translate(183.40 979.00) rotate(-45)" font-size="12.6" text-anchor="middle" dy="0.30em">27_12</text><text transform="translate(238.78 979.00) rotate(-45)" font-size="12.6" text-anchor="middle" dy="0.30em">27_15</text><text transform="translate(294.16 979.00) rotate(-45)" font-size="12.6" text-anchor="middle" dy="0.30em">27_18</text><text transform="translate(349.54 979.00) rotate(-45)" font-size="12.6" text-anchor="middle" dy="0.30em">27_21</text><text transform="translate(404.92 979.00) rotate(-45)" font-size="12.6" text-anchor="middle" dy="0.30em">28_00</text><text transform="translate(460.30 979.00) rotate(-45)" font-size="12.6" text-anchor="middle" dy="0.30em">28_03</text><text transform="translate(515.68 979.00) rotate(-45)" font-size="12.6" text-anchor="middle" dy="0.30em">28_06</text><text transform="translate(571.06 979.00) rotate(-45)" font-size="12.6" text-anchor="middle" dy="0.30em">28_09</text><text transform="translate(626.44 979.00) rotate(-45)" font-size="12.6" text-anchor="middle" dy="0.30em">28_12</text><text transform="translate(681.82 979.00) rotate(-45)" font-size="12.6" text-anchor="middle" dy="0.30em">28_15</text><text transform="translate(737.20 979.00) rotate(-45)" font-size="12.6" text-anchor="middle" dy="0.30em">28_18</text><text transform="translate(792.58 979.00) rotate(-45)" font-size="12.6" text-anchor="middle" dy="0.30em">28_21</text><text transform="translate(847.96 979.00) rotate(-45)" font-size="12.6" text-anchor="middle" dy="0.30em">29_00</text><path d="M179.60 952.3v14.8M234.98 952.3v14.8M290.36 952.3v14.8M345.74 952.3v14.8M401.12 952.3v14.8M456.50 952.3v14.8M511.88 952.3v14.8M567.26 952.3v14.8M622.64 952.3v14.8M678.02 952.3v14.8M733.40 952.3v14.8M788.78 952.3v14.8M844.16 952.3v14.8" stroke="#000" stroke-opacity="0.85" stroke-width="1.1" fill="none"/><text transform="translate(104.0 885.85) rotate(-90)" font-size="24.6" text-anchor="middle">PRECIP, mm</text></g>
</svg>
</body></html>
